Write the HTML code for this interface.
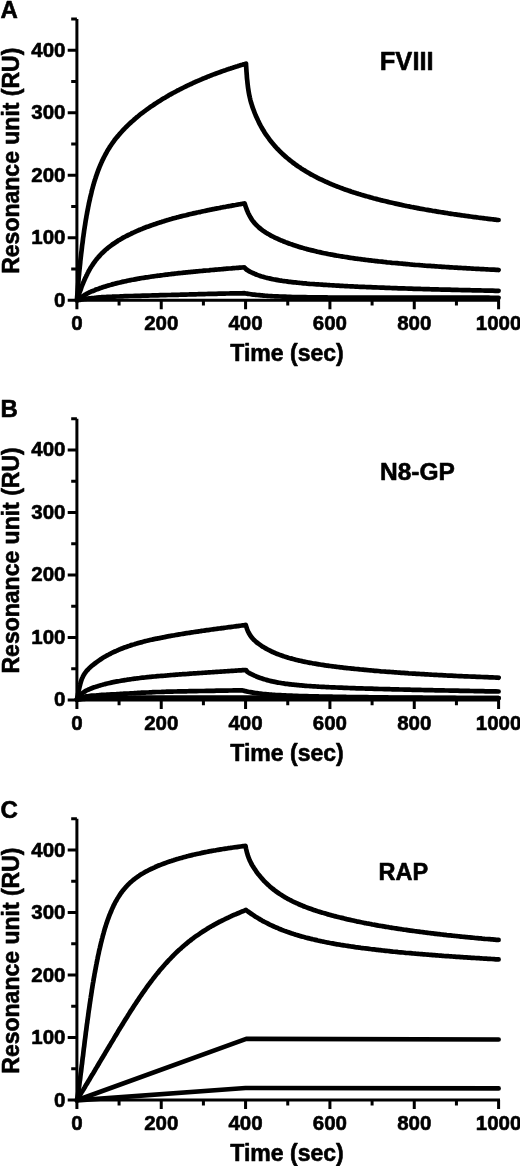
<!DOCTYPE html>
<html><head><meta charset="utf-8"><style>
html,body{margin:0;padding:0;background:#fff;width:520px;height:1166px;overflow:hidden}
svg{display:block;will-change:transform}
text{font-family:"Liberation Sans",sans-serif;font-weight:bold;fill:#000;stroke:#000;stroke-width:0.6px;stroke-linejoin:round}
.tl{font-size:20.5px}
.tt{font-size:23px}
.pl{font-size:24px}
.lb{font-size:25.5px}
.ax{fill:none;stroke:#000;stroke-width:3}
.cv{fill:none;stroke:#000;stroke-width:4.7;stroke-linecap:round;stroke-linejoin:round}
</style></head><body>
<svg width="520" height="1166" viewBox="0 0 520 1166" xmlns="http://www.w3.org/2000/svg">
<path d="M76.90 18.95V300.20H500.00" class="ax"/>
<path d="M67.70 300.20H76.90M71.20 268.95H76.90M67.70 237.70H76.90M71.20 206.45H76.90M67.70 175.20H76.90M71.20 143.95H76.90M67.70 112.70H76.90M71.20 81.45H76.90M67.70 50.20H76.90M71.20 18.95H76.90M76.90 300.20V309.20M119.07 300.20V305.50M161.24 300.20V309.20M203.41 300.20V305.50M245.58 300.20V309.20M287.75 300.20V305.50M329.92 300.20V309.20M372.09 300.20V305.50M414.26 300.20V309.20M456.43 300.20V305.50M498.60 300.20V309.20" class="ax"/>
<text x="65.5" y="306.60" class="tl" text-anchor="end">0</text>
<text x="65.5" y="244.10" class="tl" text-anchor="end">100</text>
<text x="65.5" y="181.60" class="tl" text-anchor="end">200</text>
<text x="65.5" y="119.10" class="tl" text-anchor="end">300</text>
<text x="65.5" y="56.60" class="tl" text-anchor="end">400</text>
<text x="76.90" y="330.20" class="tl" text-anchor="middle">0</text>
<text x="161.24" y="330.20" class="tl" text-anchor="middle">200</text>
<text x="245.58" y="330.20" class="tl" text-anchor="middle">400</text>
<text x="329.92" y="330.20" class="tl" text-anchor="middle">600</text>
<text x="414.26" y="330.20" class="tl" text-anchor="middle">800</text>
<text x="498.60" y="330.20" class="tl" text-anchor="middle">1000</text>
<text x="287" y="361.20" class="tt" text-anchor="middle">Time (sec)</text>
<text transform="translate(18.5 160.70) rotate(-90)" class="tt" text-anchor="middle">Resonance unit (RU)</text>
<text x="0.5" y="17.70" class="pl">A</text>
<text x="379.80" y="69.80" class="lb" style="font-size:25.5px">FVIII</text>
<path d="M76.90 300.30C76.9 299.9 77.0 298.6 77.1 297.8C77.1 296.9 77.2 296.1 77.3 295.2C77.3 294.4 77.4 293.6 77.5 292.7C77.5 291.9 77.6 291.1 77.7 290.2C77.7 289.4 77.8 288.5 77.9 287.7C77.9 286.9 78.0 286.0 78.1 285.2C78.2 284.4 78.2 283.5 78.3 282.7C78.4 281.8 78.4 281.0 78.5 280.2C78.6 279.3 78.7 278.5 78.7 277.6C78.8 276.8 78.9 276.0 79.0 275.1C79.1 274.3 79.1 273.4 79.2 272.5C79.3 271.6 79.4 270.6 79.5 269.6C79.6 268.7 79.7 267.7 79.8 266.8C79.9 265.9 80.0 265.0 80.1 264.1C80.2 263.2 80.3 262.3 80.3 261.4C80.4 260.6 80.5 259.7 80.6 258.8C80.7 258.0 80.8 257.2 80.9 256.3C81.0 255.4 81.1 254.3 81.2 253.4C81.3 252.4 81.5 251.4 81.6 250.5C81.7 249.6 81.8 248.6 81.9 247.7C82.0 246.8 82.1 245.9 82.2 245.0C82.3 244.1 82.5 243.2 82.6 242.4C82.7 241.5 82.8 240.6 82.9 239.8C83.0 239.0 83.1 238.2 83.2 237.3C83.4 236.4 83.5 235.4 83.6 234.5C83.8 233.5 83.9 232.6 84.0 231.7C84.1 230.8 84.3 230.0 84.4 229.1C84.5 228.2 84.7 227.4 84.8 226.5C84.9 225.7 85.1 224.9 85.2 224.0C85.3 223.1 85.5 222.2 85.6 221.3C85.8 220.4 85.9 219.5 86.1 218.6C86.2 217.7 86.4 216.9 86.5 216.0C86.7 215.2 86.8 214.4 87.0 213.5C87.1 212.7 87.3 211.7 87.5 210.8C87.6 209.9 87.8 209.1 88.0 208.2C88.1 207.3 88.3 206.6 88.5 205.7C88.7 204.8 88.8 203.9 89.0 203.0C89.2 202.1 89.4 201.3 89.6 200.4C89.8 199.6 90.0 198.8 90.1 197.9C90.3 197.1 90.6 196.2 90.8 195.3C91.0 194.4 91.2 193.6 91.4 192.8C91.6 191.9 91.8 191.0 92.0 190.1C92.3 189.3 92.5 188.4 92.7 187.6C92.9 186.8 93.1 186.0 93.4 185.2C93.6 184.4 93.8 183.5 94.1 182.7C94.3 181.9 94.6 181.0 94.9 180.1C95.1 179.3 95.4 178.5 95.7 177.7C95.9 176.9 96.2 176.0 96.5 175.2C96.8 174.4 97.0 173.6 97.3 172.8C97.6 172.0 97.9 171.2 98.2 170.4C98.5 169.6 98.8 168.7 99.2 167.9C99.5 167.1 99.8 166.4 100.1 165.6C100.4 164.8 100.8 164.1 101.1 163.3C101.5 162.5 101.8 161.7 102.2 160.9C102.5 160.2 102.9 159.4 103.3 158.6C103.7 157.8 104.1 157.1 104.5 156.3C104.9 155.5 105.3 154.7 105.7 154.0C106.1 153.2 106.5 152.5 106.9 151.8C107.3 151.1 107.7 150.3 108.2 149.6C108.6 148.9 109.1 148.2 109.5 147.5C110.0 146.7 110.4 146.0 110.9 145.3C111.4 144.6 111.9 143.9 112.4 143.2C112.9 142.5 113.4 141.8 113.9 141.1C114.4 140.4 114.9 139.7 115.4 139.1C115.9 138.4 116.5 137.8 117.0 137.1C117.5 136.4 118.1 135.8 118.6 135.2C119.1 134.5 119.7 133.9 120.3 133.2C120.8 132.6 121.4 131.9 122.0 131.3C122.6 130.7 123.1 130.1 123.7 129.5C124.3 128.9 124.9 128.2 125.5 127.6C126.1 127.0 126.7 126.5 127.3 125.9C127.9 125.3 128.5 124.7 129.1 124.1C129.7 123.5 130.3 123.0 131.0 122.4C131.6 121.9 132.2 121.3 132.9 120.7C133.5 120.2 134.1 119.6 134.7 119.1C135.4 118.5 136.0 118.0 136.7 117.4C137.3 116.9 138.0 116.4 138.6 115.8C139.3 115.3 140.0 114.8 140.6 114.2C141.3 113.7 142.0 113.2 142.7 112.7C143.3 112.2 144.0 111.7 144.7 111.2C145.3 110.7 146.0 110.2 146.7 109.7C147.4 109.2 148.1 108.7 148.8 108.2C149.5 107.7 150.1 107.2 150.8 106.7C151.5 106.2 152.2 105.8 153.0 105.3C153.7 104.8 154.4 104.3 155.1 103.9C155.8 103.4 156.5 102.9 157.2 102.5C157.9 102.0 158.6 101.6 159.3 101.1C160.0 100.7 160.8 100.2 161.5 99.8C162.2 99.3 162.9 98.9 163.6 98.4C164.4 98.0 165.1 97.6 165.8 97.2C166.5 96.7 167.3 96.3 168.0 95.9C168.7 95.5 169.4 95.1 170.2 94.6C170.9 94.2 171.6 93.8 172.4 93.4C173.1 93.0 173.9 92.6 174.6 92.2C175.4 91.8 176.1 91.4 176.8 91.0C177.6 90.6 178.3 90.2 179.1 89.8C179.8 89.4 180.5 89.1 181.3 88.7C182.0 88.3 182.8 87.9 183.6 87.5C184.3 87.1 185.1 86.8 185.9 86.4C186.6 86.0 187.4 85.7 188.1 85.3C188.9 84.9 189.7 84.6 190.4 84.2C191.2 83.9 192.0 83.5 192.7 83.2C193.5 82.8 194.2 82.5 195.0 82.1C195.8 81.8 196.6 81.4 197.3 81.1C198.1 80.8 198.9 80.4 199.7 80.1C200.5 79.8 201.2 79.4 202.0 79.1C202.8 78.8 203.6 78.4 204.3 78.1C205.1 77.8 205.9 77.5 206.7 77.2C207.5 76.9 208.2 76.5 209.0 76.2C209.8 75.9 210.6 75.6 211.4 75.3C212.1 75.0 212.9 74.7 213.7 74.4C214.5 74.1 215.3 73.8 216.1 73.5C216.9 73.2 217.7 72.9 218.5 72.6C219.3 72.3 220.1 72.1 220.9 71.8C221.7 71.5 222.5 71.2 223.3 70.9C224.1 70.6 224.9 70.4 225.7 70.1C226.5 69.8 227.3 69.5 228.1 69.3C228.9 69.0 229.7 68.7 230.5 68.5C231.3 68.2 232.1 67.9 232.9 67.7C233.7 67.4 234.5 67.2 235.3 66.9C236.1 66.7 236.8 66.4 237.6 66.2C238.4 65.9 239.2 65.7 240.0 65.4C240.8 65.2 241.6 64.9 242.4 64.7C243.2 64.4 244.3 64.1 244.9 64.0C245.5 63.8 245.8 63.7 246.0 63.6L246.00 63.63C246.0 64.2 246.1 65.9 246.2 67.0C246.3 68.1 246.3 69.1 246.4 70.1C246.4 71.0 246.5 71.9 246.6 72.8C246.6 73.7 246.7 74.4 246.8 75.3C246.8 76.3 246.9 77.4 247.0 78.4C247.1 79.3 247.2 80.1 247.3 81.0C247.4 82.0 247.5 83.1 247.6 84.0C247.7 84.9 247.8 85.7 247.9 86.6C248.0 87.5 248.1 88.4 248.3 89.3C248.4 90.2 248.6 91.2 248.7 92.1C248.9 93.0 249.0 93.9 249.2 94.8C249.4 95.7 249.6 96.6 249.8 97.5C250.0 98.3 250.2 99.2 250.4 100.1C250.6 100.9 250.9 101.8 251.1 102.6C251.4 103.4 251.6 104.3 251.9 105.1C252.1 105.9 252.4 106.8 252.7 107.6C253.0 108.4 253.3 109.2 253.6 110.0C253.9 110.9 254.2 111.7 254.5 112.5C254.8 113.3 255.1 114.1 255.5 114.8C255.8 115.6 256.1 116.4 256.5 117.2C256.8 118.0 257.2 118.8 257.6 119.5C257.9 120.3 258.3 121.1 258.7 121.9C259.1 122.7 259.4 123.4 259.8 124.1C260.2 124.9 260.6 125.6 261.0 126.4C261.4 127.1 261.9 127.9 262.3 128.6C262.7 129.4 263.2 130.1 263.6 130.8C264.1 131.6 264.5 132.3 265.0 133.1C265.5 133.8 265.9 134.5 266.4 135.2C266.9 135.9 267.4 136.6 267.9 137.2C268.4 137.9 268.9 138.6 269.4 139.3C269.9 140.0 270.4 140.7 271.0 141.4C271.5 142.0 272.0 142.7 272.5 143.3C273.1 144.0 273.6 144.6 274.2 145.3C274.7 145.9 275.3 146.6 275.9 147.2C276.4 147.8 277.0 148.4 277.6 149.0C278.2 149.6 278.8 150.2 279.4 150.8C280.0 151.4 280.6 152.0 281.2 152.6C281.8 153.2 282.4 153.8 283.0 154.4C283.6 154.9 284.3 155.5 284.9 156.1C285.5 156.6 286.2 157.2 286.8 157.7C287.4 158.3 288.1 158.8 288.8 159.4C289.4 159.9 290.1 160.4 290.7 160.9C291.4 161.4 292.1 162.0 292.7 162.5C293.4 163.0 294.1 163.5 294.8 164.0C295.4 164.5 296.2 165.0 296.8 165.5C297.5 166.0 298.2 166.4 298.9 166.9C299.6 167.4 300.3 167.8 301.0 168.3C301.7 168.8 302.4 169.2 303.2 169.7C303.9 170.1 304.6 170.6 305.3 171.0C306.0 171.4 306.7 171.9 307.5 172.3C308.2 172.7 308.9 173.1 309.7 173.6C310.4 174.0 311.1 174.4 311.9 174.8C312.6 175.2 313.3 175.6 314.1 176.0C314.8 176.4 315.6 176.8 316.4 177.2C317.1 177.6 317.9 178.0 318.6 178.3C319.4 178.7 320.2 179.1 320.9 179.4C321.7 179.8 322.4 180.2 323.2 180.5C323.9 180.9 324.7 181.2 325.5 181.6C326.2 181.9 327.0 182.3 327.8 182.6C328.6 183.0 329.4 183.3 330.1 183.6C330.9 184.0 331.7 184.3 332.5 184.6C333.3 184.9 334.0 185.3 334.8 185.6C335.6 185.9 336.4 186.2 337.1 186.5C337.9 186.8 338.7 187.1 339.5 187.4C340.3 187.7 341.1 188.0 341.9 188.3C342.7 188.6 343.5 188.9 344.3 189.2C345.1 189.5 345.9 189.8 346.7 190.0C347.5 190.3 348.3 190.6 349.1 190.9C349.9 191.1 350.7 191.4 351.5 191.7C352.3 191.9 353.1 192.2 353.9 192.5C354.7 192.7 355.5 193.0 356.3 193.2C357.1 193.5 357.9 193.7 358.7 194.0C359.5 194.2 360.3 194.5 361.1 194.7C361.9 194.9 362.7 195.2 363.5 195.4C364.3 195.7 365.1 195.9 366.0 196.1C366.8 196.4 367.6 196.6 368.4 196.8C369.2 197.1 370.1 197.3 370.9 197.5C371.7 197.7 372.5 198.0 373.3 198.2C374.2 198.4 375.0 198.6 375.8 198.8C376.6 199.1 377.4 199.3 378.3 199.5C379.1 199.7 379.9 199.9 380.7 200.1C381.6 200.3 382.4 200.5 383.2 200.7C384.0 200.9 384.8 201.1 385.7 201.3C386.5 201.5 387.3 201.7 388.1 201.9C388.9 202.1 389.8 202.3 390.6 202.5C391.4 202.7 392.2 202.9 393.0 203.0C393.9 203.2 394.7 203.4 395.5 203.6C396.3 203.8 397.2 204.0 398.0 204.1C398.8 204.3 399.6 204.5 400.4 204.7C401.3 204.8 402.1 205.0 402.9 205.2C403.7 205.4 404.5 205.5 405.4 205.7C406.2 205.9 407.0 206.0 407.8 206.2C408.7 206.4 409.5 206.5 410.3 206.7C411.1 206.9 411.9 207.0 412.8 207.2C413.6 207.3 414.4 207.5 415.2 207.7C416.0 207.8 416.9 208.0 417.7 208.1C418.5 208.3 419.3 208.4 420.1 208.6C421.0 208.7 421.8 208.9 422.6 209.0C423.4 209.2 424.3 209.3 425.1 209.5C425.9 209.6 426.7 209.8 427.5 209.9C428.4 210.1 429.2 210.2 430.0 210.3C430.8 210.5 431.7 210.6 432.5 210.8C433.4 210.9 434.2 211.1 435.1 211.2C435.9 211.3 436.7 211.5 437.6 211.6C438.4 211.8 439.3 211.9 440.1 212.0C441.0 212.2 441.8 212.3 442.6 212.4C443.5 212.6 444.3 212.7 445.2 212.8C446.0 213.0 446.8 213.1 447.7 213.2C448.5 213.4 449.4 213.5 450.2 213.6C451.1 213.8 451.9 213.9 452.7 214.0C453.6 214.1 454.4 214.3 455.3 214.4C456.1 214.5 457.0 214.6 457.8 214.8C458.6 214.9 459.5 215.0 460.3 215.1C461.2 215.2 462.0 215.4 462.8 215.5C463.7 215.6 464.5 215.7 465.4 215.8C466.2 215.9 467.1 216.1 467.9 216.2C468.7 216.3 469.6 216.4 470.4 216.5C471.3 216.6 472.1 216.7 473.0 216.9C473.8 217.0 474.6 217.1 475.5 217.2C476.3 217.3 477.2 217.4 478.0 217.5C478.9 217.6 479.7 217.7 480.5 217.8C481.4 217.9 482.2 218.1 483.1 218.2C483.9 218.3 484.7 218.4 485.6 218.5C486.4 218.6 487.3 218.7 488.1 218.8C489.0 218.9 489.8 219.0 490.6 219.1C491.5 219.2 492.3 219.3 493.2 219.4C494.0 219.5 494.8 219.6 495.7 219.7C496.6 219.8 498.1 220.0 498.6 220.0" class="cv"/>
<path d="M76.90 300.30C77.0 299.9 77.5 298.7 77.7 297.9C78.0 297.1 78.3 296.4 78.5 295.6C78.8 294.8 79.1 294.0 79.3 293.2C79.6 292.4 79.9 291.6 80.2 290.8C80.5 290.0 80.8 289.2 81.1 288.4C81.3 287.6 81.6 286.8 81.9 286.0C82.2 285.2 82.6 284.4 82.9 283.6C83.2 282.8 83.5 282.0 83.9 281.2C84.2 280.4 84.6 279.6 84.9 278.8C85.3 278.1 85.6 277.3 86.0 276.6C86.3 275.8 86.7 275.0 87.1 274.3C87.4 273.5 87.8 272.8 88.2 272.1C88.6 271.3 89.0 270.6 89.4 269.9C89.9 269.1 90.3 268.4 90.7 267.7C91.2 267.0 91.6 266.2 92.1 265.5C92.6 264.8 93.0 264.1 93.5 263.4C94.0 262.7 94.5 262.0 95.0 261.3C95.5 260.6 96.0 260.0 96.6 259.3C97.1 258.6 97.6 258.0 98.2 257.4C98.7 256.7 99.3 256.1 99.9 255.5C100.5 254.8 101.0 254.2 101.6 253.6C102.2 253.0 102.9 252.4 103.5 251.8C104.1 251.2 104.7 250.7 105.3 250.1C106.0 249.6 106.6 249.0 107.3 248.5C107.9 247.9 108.6 247.4 109.3 246.9C109.9 246.3 110.6 245.8 111.3 245.3C112.0 244.8 112.7 244.3 113.4 243.9C114.0 243.4 114.7 242.9 115.5 242.4C116.2 242.0 116.9 241.5 117.6 241.1C118.3 240.6 119.0 240.2 119.8 239.7C120.5 239.3 121.2 238.9 122.0 238.4C122.7 238.0 123.4 237.6 124.2 237.2C124.9 236.8 125.6 236.4 126.4 236.0C127.1 235.7 127.9 235.3 128.6 234.9C129.4 234.5 130.2 234.1 130.9 233.8C131.7 233.4 132.4 233.1 133.2 232.7C133.9 232.3 134.7 232.0 135.5 231.6C136.3 231.3 137.0 231.0 137.8 230.6C138.6 230.3 139.4 230.0 140.1 229.6C140.9 229.3 141.7 229.0 142.5 228.7C143.2 228.4 144.0 228.1 144.8 227.8C145.6 227.4 146.4 227.1 147.2 226.8C148.0 226.5 148.8 226.3 149.6 226.0C150.4 225.7 151.2 225.4 151.9 225.1C152.7 224.8 153.5 224.6 154.3 224.3C155.1 224.0 155.9 223.8 156.7 223.5C157.5 223.2 158.3 222.9 159.1 222.7C159.9 222.4 160.7 222.2 161.6 221.9C162.4 221.7 163.2 221.4 164.0 221.2C164.8 220.9 165.6 220.7 166.4 220.4C167.2 220.2 168.0 219.9 168.8 219.7C169.7 219.5 170.5 219.2 171.3 219.0C172.1 218.8 172.9 218.6 173.7 218.3C174.5 218.1 175.3 217.9 176.1 217.7C176.9 217.5 177.8 217.2 178.6 217.0C179.4 216.8 180.2 216.6 181.0 216.4C181.8 216.2 182.6 216.0 183.4 215.8C184.2 215.6 185.0 215.4 185.9 215.2C186.7 215.0 187.5 214.8 188.3 214.6C189.2 214.4 190.0 214.2 190.8 214.0C191.6 213.8 192.5 213.6 193.3 213.4C194.1 213.2 195.0 213.0 195.8 212.9C196.6 212.7 197.4 212.5 198.3 212.3C199.1 212.1 199.9 211.9 200.8 211.8C201.6 211.6 202.4 211.4 203.2 211.2C204.1 211.0 204.9 210.9 205.7 210.7C206.6 210.5 207.4 210.3 208.2 210.2C209.0 210.0 209.9 209.8 210.7 209.7C211.5 209.5 212.4 209.3 213.2 209.2C214.0 209.0 214.8 208.8 215.7 208.7C216.5 208.5 217.3 208.4 218.2 208.2C219.0 208.0 219.8 207.9 220.6 207.7C221.5 207.6 222.3 207.4 223.1 207.2C223.9 207.1 224.8 206.9 225.6 206.8C226.4 206.6 227.3 206.5 228.1 206.3C228.9 206.2 229.7 206.0 230.6 205.9C231.4 205.7 232.2 205.6 233.1 205.4C233.9 205.3 234.7 205.1 235.5 205.0C236.4 204.8 237.2 204.7 238.0 204.5C238.9 204.4 239.7 204.2 240.5 204.1C241.3 203.9 242.3 203.8 243.0 203.7C243.7 203.5 244.3 203.4 244.6 203.4L244.60 203.39C244.7 203.8 245.1 205.0 245.4 205.8C245.6 206.6 245.9 207.5 246.3 208.3C246.6 209.1 246.9 210.0 247.2 210.7C247.5 211.5 247.9 212.3 248.2 213.1C248.6 213.8 249.0 214.6 249.4 215.4C249.8 216.1 250.2 216.9 250.6 217.6C251.1 218.4 251.5 219.1 252.0 219.8C252.5 220.5 253.0 221.2 253.6 221.9C254.1 222.6 254.6 223.2 255.2 223.8C255.8 224.5 256.4 225.1 257.0 225.7C257.6 226.3 258.2 226.9 258.8 227.4C259.5 228.0 260.1 228.5 260.8 229.0C261.5 229.6 262.1 230.1 262.8 230.6C263.5 231.1 264.2 231.5 264.9 232.0C265.6 232.5 266.4 232.9 267.1 233.4C267.8 233.8 268.6 234.2 269.3 234.6C270.0 235.1 270.8 235.5 271.5 235.9C272.3 236.3 273.1 236.6 273.8 237.0C274.6 237.4 275.3 237.8 276.1 238.1C276.9 238.5 277.6 238.8 278.4 239.2C279.2 239.5 280.0 239.9 280.7 240.2C281.5 240.5 282.3 240.9 283.1 241.2C283.9 241.5 284.7 241.8 285.4 242.1C286.2 242.4 287.0 242.7 287.8 243.0C288.6 243.3 289.3 243.6 290.1 243.9C290.9 244.2 291.7 244.4 292.6 244.7C293.4 245.0 294.2 245.3 295.0 245.5C295.8 245.8 296.6 246.1 297.4 246.3C298.2 246.6 299.0 246.8 299.8 247.1C300.6 247.3 301.4 247.5 302.2 247.8C303.0 248.0 303.8 248.2 304.6 248.5C305.4 248.7 306.2 248.9 307.0 249.1C307.9 249.3 308.7 249.6 309.5 249.8C310.3 250.0 311.2 250.2 312.0 250.4C312.8 250.6 313.6 250.8 314.5 251.0C315.3 251.2 316.1 251.4 316.9 251.6C317.8 251.8 318.6 252.0 319.4 252.1C320.2 252.3 321.1 252.5 321.9 252.7C322.7 252.9 323.6 253.0 324.4 253.2C325.2 253.4 326.0 253.6 326.9 253.7C327.7 253.9 328.5 254.0 329.3 254.2C330.2 254.4 331.0 254.5 331.8 254.7C332.6 254.8 333.5 255.0 334.3 255.1C335.1 255.3 335.9 255.4 336.8 255.6C337.6 255.7 338.4 255.9 339.2 256.0C340.1 256.1 340.9 256.3 341.7 256.4C342.5 256.6 343.4 256.7 344.2 256.8C345.0 257.0 345.8 257.1 346.7 257.2C347.5 257.3 348.3 257.5 349.1 257.6C350.0 257.7 350.8 257.8 351.6 258.0C352.4 258.1 353.3 258.2 354.1 258.3C354.9 258.4 355.7 258.5 356.6 258.7C357.4 258.8 358.3 258.9 359.1 259.0C360.0 259.1 360.8 259.2 361.7 259.3C362.5 259.4 363.4 259.6 364.2 259.7C365.0 259.8 365.9 259.9 366.7 260.0C367.6 260.1 368.4 260.2 369.3 260.3C370.1 260.4 371.0 260.5 371.8 260.6C372.7 260.7 373.5 260.8 374.4 260.9C375.2 261.0 376.1 261.1 376.9 261.2C377.8 261.3 378.6 261.4 379.4 261.5C380.3 261.5 381.1 261.6 382.0 261.7C382.8 261.8 383.7 261.9 384.5 262.0C385.4 262.1 386.2 262.2 387.1 262.3C387.9 262.3 388.8 262.4 389.6 262.5C390.5 262.6 391.3 262.7 392.1 262.8C393.0 262.8 393.8 262.9 394.7 263.0C395.5 263.1 396.4 263.2 397.2 263.2C398.1 263.3 398.9 263.4 399.8 263.5C400.6 263.5 401.5 263.6 402.3 263.7C403.2 263.8 404.0 263.8 404.9 263.9C405.7 264.0 406.5 264.1 407.4 264.1C408.2 264.2 409.1 264.3 409.9 264.4C410.8 264.4 411.6 264.5 412.5 264.6C413.3 264.6 414.2 264.7 415.0 264.8C415.9 264.8 416.7 264.9 417.6 265.0C418.4 265.0 419.2 265.1 420.1 265.2C420.9 265.2 421.8 265.3 422.6 265.4C423.5 265.4 424.3 265.5 425.2 265.6C426.0 265.6 426.9 265.7 427.7 265.8C428.6 265.8 429.4 265.9 430.3 265.9C431.1 266.0 432.0 266.1 432.8 266.1C433.6 266.2 434.5 266.2 435.3 266.3C436.2 266.4 437.0 266.4 437.9 266.5C438.7 266.5 439.6 266.6 440.4 266.6C441.3 266.7 442.1 266.8 443.0 266.8C443.8 266.9 444.7 266.9 445.5 267.0C446.3 267.0 447.2 267.1 448.0 267.1C448.9 267.2 449.7 267.3 450.6 267.3C451.4 267.4 452.3 267.4 453.1 267.5C454.0 267.5 454.8 267.6 455.7 267.6C456.5 267.7 457.4 267.7 458.2 267.8C459.1 267.8 459.9 267.9 460.7 267.9C461.6 268.0 462.4 268.0 463.3 268.1C464.1 268.1 465.0 268.2 465.8 268.2C466.7 268.3 467.5 268.3 468.4 268.4C469.2 268.4 470.1 268.5 470.9 268.5C471.8 268.6 472.6 268.6 473.4 268.7C474.3 268.7 475.1 268.8 476.0 268.8C476.8 268.8 477.7 268.9 478.5 268.9C479.4 269.0 480.2 269.0 481.1 269.1C481.9 269.1 482.8 269.2 483.6 269.2C484.5 269.2 485.3 269.3 486.2 269.3C487.0 269.4 487.8 269.4 488.7 269.5C489.5 269.5 490.4 269.5 491.2 269.6C492.1 269.6 492.9 269.7 493.8 269.7C494.6 269.8 495.5 269.8 496.3 269.8C497.1 269.9 498.2 269.9 498.6 270.0" class="cv"/>
<path d="M76.90 300.30C77.3 300.1 78.4 299.4 79.1 298.9C79.8 298.5 80.5 298.0 81.2 297.5C81.9 297.0 82.5 296.5 83.2 296.0C84.0 295.5 84.7 295.0 85.4 294.6C86.1 294.1 86.9 293.7 87.6 293.3C88.3 293.0 89.1 292.6 89.9 292.2C90.6 291.9 91.4 291.6 92.2 291.2C93.0 290.9 93.8 290.6 94.5 290.3C95.3 289.9 96.1 289.6 96.9 289.3C97.7 289.0 98.5 288.8 99.3 288.5C100.1 288.2 100.8 287.9 101.6 287.6C102.4 287.4 103.3 287.1 104.1 286.8C104.9 286.6 105.7 286.3 106.5 286.1C107.3 285.8 108.1 285.6 108.9 285.4C109.7 285.1 110.5 284.9 111.3 284.7C112.1 284.4 113.0 284.2 113.8 284.0C114.6 283.8 115.4 283.6 116.2 283.4C117.0 283.2 117.8 283.0 118.7 282.7C119.5 282.5 120.3 282.4 121.1 282.2C122.0 282.0 122.8 281.8 123.6 281.6C124.5 281.4 125.3 281.2 126.1 281.1C126.9 280.9 127.8 280.7 128.6 280.5C129.4 280.4 130.2 280.2 131.1 280.0C131.9 279.9 132.7 279.7 133.5 279.6C134.4 279.4 135.2 279.3 136.0 279.1C136.8 279.0 137.7 278.8 138.5 278.7C139.3 278.5 140.1 278.4 141.0 278.2C141.8 278.1 142.6 278.0 143.5 277.8C144.3 277.7 145.1 277.6 145.9 277.4C146.8 277.3 147.6 277.2 148.4 277.1C149.2 276.9 150.1 276.8 150.9 276.7C151.7 276.6 152.5 276.5 153.4 276.3C154.2 276.2 155.0 276.1 155.8 276.0C156.7 275.9 157.5 275.8 158.3 275.7C159.2 275.5 160.0 275.4 160.9 275.3C161.7 275.2 162.5 275.1 163.4 275.0C164.2 274.9 165.1 274.8 165.9 274.7C166.8 274.6 167.6 274.5 168.5 274.4C169.3 274.3 170.2 274.2 171.0 274.1C171.8 274.0 172.7 273.9 173.5 273.8C174.4 273.7 175.2 273.6 176.1 273.5C176.9 273.4 177.8 273.3 178.6 273.2C179.4 273.1 180.3 273.1 181.1 273.0C182.0 272.9 182.8 272.8 183.7 272.7C184.5 272.6 185.4 272.5 186.2 272.4C187.0 272.3 187.9 272.3 188.7 272.2C189.6 272.1 190.4 272.0 191.3 271.9C192.1 271.8 193.0 271.8 193.8 271.7C194.6 271.6 195.5 271.5 196.3 271.4C197.2 271.4 198.0 271.3 198.9 271.2C199.7 271.1 200.6 271.0 201.4 271.0C202.2 270.9 203.1 270.8 203.9 270.7C204.8 270.6 205.6 270.6 206.5 270.5C207.3 270.4 208.2 270.3 209.0 270.3C209.8 270.2 210.7 270.1 211.5 270.0C212.4 270.0 213.2 269.9 214.1 269.8C214.9 269.7 215.8 269.7 216.6 269.6C217.4 269.5 218.3 269.5 219.1 269.4C220.0 269.3 220.8 269.2 221.7 269.2C222.5 269.1 223.4 269.0 224.2 268.9C225.0 268.9 225.9 268.8 226.7 268.7C227.6 268.7 228.4 268.6 229.3 268.5C230.1 268.5 231.0 268.4 231.8 268.3C232.7 268.2 233.5 268.2 234.3 268.1C235.2 268.0 236.0 268.0 236.9 267.9C237.7 267.8 238.6 267.8 239.4 267.7C240.3 267.6 241.1 267.6 241.9 267.5C242.7 267.4 243.8 267.3 244.2 267.3L244.20 267.31C244.5 267.6 245.3 268.5 246.0 269.1C246.6 269.6 247.3 270.1 248.0 270.5C248.7 271.0 249.4 271.4 250.2 271.8C250.9 272.2 251.7 272.6 252.5 272.9C253.2 273.3 254.0 273.6 254.8 273.9C255.5 274.3 256.3 274.6 257.1 274.9C257.9 275.2 258.7 275.5 259.5 275.7C260.3 276.0 261.1 276.3 261.9 276.5C262.8 276.7 263.5 277.0 264.4 277.2C265.2 277.4 266.0 277.6 266.8 277.9C267.7 278.1 268.5 278.3 269.3 278.4C270.2 278.6 271.0 278.8 271.8 279.0C272.6 279.2 273.5 279.3 274.3 279.5C275.1 279.6 275.9 279.8 276.8 279.9C277.6 280.1 278.4 280.2 279.3 280.4C280.1 280.5 280.9 280.6 281.7 280.7C282.6 280.9 283.4 281.0 284.2 281.1C285.0 281.2 285.9 281.3 286.7 281.4C287.5 281.6 288.3 281.7 289.2 281.8C290.0 281.9 290.9 282.0 291.7 282.1C292.6 282.2 293.4 282.3 294.3 282.3C295.1 282.4 296.0 282.5 296.8 282.6C297.7 282.7 298.5 282.8 299.4 282.9C300.2 283.0 301.1 283.0 301.9 283.1C302.7 283.2 303.6 283.3 304.4 283.3C305.3 283.4 306.1 283.5 307.0 283.6C307.8 283.6 308.7 283.7 309.5 283.8C310.4 283.8 311.2 283.9 312.1 284.0C312.9 284.0 313.8 284.1 314.6 284.2C315.5 284.2 316.3 284.3 317.2 284.4C318.0 284.4 318.9 284.5 319.7 284.5C320.6 284.6 321.4 284.7 322.3 284.7C323.1 284.8 324.0 284.8 324.8 284.9C325.6 284.9 326.5 285.0 327.3 285.0C328.2 285.1 329.0 285.1 329.9 285.2C330.7 285.2 331.6 285.3 332.4 285.3C333.3 285.4 334.1 285.4 335.0 285.5C335.8 285.5 336.7 285.6 337.5 285.6C338.4 285.7 339.2 285.7 340.1 285.8C340.9 285.8 341.8 285.9 342.6 285.9C343.5 286.0 344.3 286.0 345.2 286.1C346.0 286.1 346.9 286.1 347.7 286.2C348.6 286.2 349.4 286.3 350.2 286.3C351.1 286.3 351.9 286.4 352.8 286.4C353.6 286.5 354.5 286.5 355.3 286.6C356.2 286.6 357.0 286.6 357.9 286.7C358.7 286.7 359.6 286.7 360.4 286.8C361.3 286.8 362.1 286.9 363.0 286.9C363.8 286.9 364.7 287.0 365.5 287.0C366.4 287.0 367.2 287.1 368.1 287.1C368.9 287.2 369.8 287.2 370.6 287.2C371.5 287.3 372.3 287.3 373.1 287.3C374.0 287.4 374.8 287.4 375.7 287.4C376.5 287.5 377.4 287.5 378.2 287.5C379.1 287.6 379.9 287.6 380.8 287.6C381.6 287.7 382.5 287.7 383.3 287.7C384.2 287.8 385.0 287.8 385.9 287.8C386.7 287.9 387.6 287.9 388.4 287.9C389.3 287.9 390.1 288.0 391.0 288.0C391.8 288.0 392.7 288.1 393.5 288.1C394.4 288.1 395.2 288.2 396.1 288.2C396.9 288.2 397.7 288.2 398.6 288.3C399.4 288.3 400.3 288.3 401.1 288.4C402.0 288.4 402.8 288.4 403.7 288.4C404.5 288.5 405.4 288.5 406.2 288.5C407.1 288.6 407.9 288.6 408.8 288.6C409.6 288.6 410.5 288.7 411.3 288.7C412.2 288.7 413.0 288.7 413.9 288.8C414.7 288.8 415.6 288.8 416.4 288.8C417.3 288.9 418.1 288.9 419.0 288.9C419.8 288.9 420.6 289.0 421.5 289.0C422.3 289.0 423.2 289.0 424.0 289.1C424.9 289.1 425.7 289.1 426.6 289.1C427.4 289.2 428.3 289.2 429.1 289.2C430.0 289.2 430.8 289.3 431.7 289.3C432.5 289.3 433.4 289.3 434.2 289.3C435.1 289.4 435.9 289.4 436.8 289.4C437.6 289.4 438.5 289.5 439.3 289.5C440.2 289.5 441.0 289.5 441.9 289.6C442.7 289.6 443.6 289.6 444.4 289.6C445.2 289.6 446.1 289.7 446.9 289.7C447.8 289.7 448.6 289.7 449.5 289.7C450.3 289.8 451.2 289.8 452.0 289.8C452.9 289.8 453.7 289.8 454.6 289.9C455.4 289.9 456.3 289.9 457.1 289.9C458.0 290.0 458.8 290.0 459.7 290.0C460.5 290.0 461.4 290.0 462.2 290.1C463.1 290.1 463.9 290.1 464.8 290.1C465.6 290.1 466.5 290.1 467.3 290.2C468.1 290.2 469.0 290.2 469.8 290.2C470.7 290.2 471.5 290.3 472.4 290.3C473.2 290.3 474.1 290.3 474.9 290.3C475.8 290.4 476.6 290.4 477.5 290.4C478.3 290.4 479.2 290.4 480.0 290.4C480.9 290.5 481.7 290.5 482.6 290.5C483.4 290.5 484.3 290.5 485.1 290.6C486.0 290.6 486.8 290.6 487.7 290.6C488.5 290.6 489.4 290.6 490.2 290.7C491.1 290.7 491.9 290.7 492.7 290.7C493.6 290.7 494.3 290.7 495.3 290.8C496.3 290.8 498.0 290.8 498.6 290.8" class="cv"/>
<path d="M76.90 300.30C77.3 300.2 78.6 300.0 79.4 299.8C80.2 299.7 81.1 299.5 81.9 299.4C82.7 299.3 83.5 299.2 84.4 299.0C85.2 298.9 86.0 298.8 86.8 298.7C87.7 298.6 88.5 298.5 89.3 298.4C90.2 298.3 91.0 298.2 91.9 298.1C92.7 298.0 93.6 297.9 94.4 297.9C95.3 297.8 96.1 297.7 96.9 297.6C97.8 297.6 98.6 297.5 99.5 297.4C100.3 297.4 101.2 297.3 102.0 297.2C102.9 297.2 103.7 297.1 104.6 297.1C105.4 297.0 106.3 297.0 107.1 296.9C107.9 296.9 108.8 296.8 109.6 296.8C110.5 296.8 111.3 296.7 112.2 296.7C113.0 296.6 113.9 296.6 114.7 296.6C115.6 296.5 116.4 296.5 117.2 296.5C118.1 296.4 118.9 296.4 119.8 296.4C120.6 296.3 121.5 296.3 122.3 296.3C123.2 296.2 124.0 296.2 124.9 296.2C125.7 296.2 126.6 296.1 127.4 296.1C128.2 296.1 129.1 296.1 129.9 296.0C130.8 296.0 131.6 296.0 132.5 296.0C133.3 295.9 134.2 295.9 135.0 295.9C135.9 295.9 136.7 295.8 137.6 295.8C138.4 295.8 139.2 295.8 140.1 295.8C140.9 295.7 141.8 295.7 142.6 295.7C143.5 295.7 144.3 295.6 145.2 295.6C146.0 295.6 146.9 295.6 147.7 295.6C148.6 295.5 149.4 295.5 150.2 295.5C151.1 295.5 151.9 295.5 152.8 295.4C153.6 295.4 154.5 295.4 155.3 295.4C156.2 295.4 157.0 295.3 157.9 295.3C158.7 295.3 159.6 295.3 160.4 295.2C161.2 295.2 162.1 295.2 162.9 295.2C163.8 295.2 164.6 295.1 165.5 295.1C166.3 295.1 167.2 295.1 168.0 295.0C168.9 295.0 169.7 295.0 170.6 295.0C171.4 295.0 172.2 294.9 173.1 294.9C173.9 294.9 174.8 294.9 175.6 294.8C176.5 294.8 177.3 294.8 178.2 294.8C179.0 294.8 179.9 294.7 180.7 294.7C181.6 294.7 182.4 294.7 183.2 294.6C184.1 294.6 184.9 294.6 185.8 294.6C186.6 294.5 187.5 294.5 188.3 294.5C189.2 294.5 190.0 294.4 190.9 294.4C191.7 294.4 192.6 294.4 193.4 294.4C194.2 294.3 195.1 294.3 195.9 294.3C196.8 294.3 197.6 294.2 198.5 294.2C199.3 294.2 200.2 294.2 201.0 294.1C201.9 294.1 202.7 294.1 203.6 294.1C204.4 294.1 205.2 294.0 206.1 294.0C206.9 294.0 207.8 294.0 208.6 293.9C209.5 293.9 210.3 293.9 211.2 293.9C212.0 293.9 212.9 293.8 213.7 293.8C214.6 293.8 215.4 293.8 216.2 293.8C217.1 293.7 217.9 293.7 218.8 293.7C219.6 293.7 220.5 293.7 221.3 293.6C222.2 293.6 223.0 293.6 223.9 293.6C224.7 293.6 225.6 293.5 226.4 293.5C227.2 293.5 228.1 293.5 228.9 293.5C229.8 293.5 230.6 293.4 231.5 293.4C232.3 293.4 233.2 293.4 234.0 293.4C234.9 293.4 235.7 293.3 236.6 293.3C237.4 293.3 238.2 293.3 239.1 293.3C239.9 293.3 240.7 293.3 241.6 293.3C242.5 293.2 244.0 293.2 244.5 293.2L244.50 293.21C244.9 293.3 246.2 293.5 247.0 293.6C247.8 293.8 248.6 293.9 249.5 294.0C250.3 294.1 251.1 294.2 251.9 294.4C252.8 294.5 253.6 294.6 254.5 294.7C255.3 294.8 256.2 294.9 257.0 295.0C257.9 295.0 258.7 295.1 259.6 295.2C260.4 295.3 261.3 295.4 262.1 295.4C262.9 295.5 263.8 295.6 264.6 295.7C265.5 295.7 266.3 295.8 267.2 295.8C268.0 295.9 268.9 296.0 269.7 296.0C270.6 296.1 271.4 296.1 272.3 296.2C273.1 296.2 274.0 296.3 274.8 296.3C275.7 296.4 276.5 296.4 277.4 296.4C278.2 296.5 279.0 296.5 279.9 296.5C280.7 296.6 281.6 296.6 282.4 296.6C283.3 296.7 284.1 296.7 285.0 296.7C285.8 296.8 286.7 296.8 287.5 296.8C288.4 296.9 289.2 296.9 290.1 296.9C290.9 296.9 291.8 296.9 292.6 297.0C293.4 297.0 294.3 297.0 295.1 297.0C296.0 297.0 296.8 297.1 297.7 297.1C298.5 297.1 299.4 297.1 300.2 297.1C301.1 297.2 301.9 297.2 302.8 297.2C303.6 297.2 304.5 297.2 305.3 297.2C306.2 297.2 307.0 297.2 307.9 297.3C308.7 297.3 309.5 297.3 310.4 297.3C311.2 297.3 312.1 297.3 312.9 297.3C313.8 297.3 314.6 297.3 315.5 297.4C316.3 297.4 317.2 297.4 318.0 297.4C318.9 297.4 319.7 297.4 320.6 297.4C321.4 297.4 322.3 297.4 323.1 297.4C323.9 297.4 324.8 297.4 325.6 297.4C326.5 297.4 327.3 297.5 328.2 297.5C329.0 297.5 329.9 297.5 330.7 297.5C331.6 297.5 332.4 297.5 333.3 297.5C334.1 297.5 335.0 297.5 335.8 297.5C336.7 297.5 337.5 297.5 338.3 297.5C339.2 297.5 340.0 297.5 340.9 297.5C341.7 297.5 342.6 297.5 343.4 297.5C344.3 297.5 345.1 297.5 346.0 297.5C346.8 297.6 347.7 297.6 348.5 297.6C349.4 297.6 350.2 297.6 351.1 297.6C351.9 297.6 352.8 297.6 353.6 297.6C354.4 297.6 355.3 297.6 356.1 297.6C357.0 297.6 357.8 297.6 358.7 297.6C359.5 297.6 360.4 297.6 361.2 297.6C362.1 297.6 362.9 297.6 363.8 297.6C364.6 297.6 365.5 297.6 366.3 297.6C367.2 297.6 368.0 297.6 368.8 297.6C369.7 297.6 370.5 297.6 371.4 297.6C372.2 297.6 373.1 297.6 373.9 297.6C374.8 297.6 375.6 297.6 376.5 297.6C377.3 297.6 378.2 297.6 379.0 297.6C379.9 297.6 380.7 297.6 381.6 297.6C382.4 297.6 383.3 297.6 384.1 297.6C384.9 297.6 385.8 297.6 386.6 297.6C387.5 297.6 388.3 297.6 389.2 297.6C390.0 297.6 390.9 297.6 391.7 297.6C392.6 297.7 393.4 297.7 394.3 297.7C395.1 297.7 396.0 297.7 396.8 297.7C397.7 297.7 398.5 297.7 399.3 297.7C400.2 297.7 401.0 297.7 401.9 297.7C402.7 297.7 403.6 297.7 404.4 297.7C405.3 297.7 406.1 297.7 407.0 297.7C407.8 297.7 408.7 297.7 409.5 297.7C410.4 297.7 411.2 297.7 412.1 297.7C412.9 297.7 413.8 297.7 414.6 297.7C415.4 297.7 416.3 297.7 417.1 297.7C418.0 297.7 418.8 297.7 419.7 297.7C420.5 297.7 421.4 297.7 422.2 297.7C423.1 297.7 423.9 297.7 424.8 297.7C425.6 297.7 426.5 297.7 427.3 297.7C428.2 297.7 429.0 297.7 429.8 297.7C430.7 297.7 431.5 297.7 432.4 297.7C433.2 297.7 434.1 297.7 434.9 297.7C435.8 297.7 436.6 297.7 437.5 297.7C438.3 297.7 439.2 297.7 440.0 297.7C440.9 297.7 441.7 297.7 442.6 297.7C443.4 297.7 444.3 297.7 445.1 297.7C445.9 297.7 446.8 297.7 447.6 297.7C448.5 297.7 449.3 297.7 450.2 297.7C451.0 297.7 451.9 297.7 452.7 297.7C453.6 297.7 454.4 297.7 455.3 297.7C456.1 297.7 457.0 297.7 457.8 297.7C458.7 297.7 459.5 297.7 460.3 297.7C461.2 297.7 462.0 297.7 462.9 297.7C463.7 297.7 464.6 297.7 465.4 297.7C466.3 297.7 467.1 297.7 468.0 297.7C468.8 297.7 469.7 297.7 470.5 297.7C471.4 297.7 472.2 297.7 473.1 297.7C473.9 297.7 474.8 297.7 475.6 297.7C476.4 297.7 477.3 297.7 478.1 297.7C479.0 297.7 479.8 297.7 480.7 297.7C481.5 297.7 482.4 297.7 483.2 297.7C484.1 297.7 484.9 297.7 485.8 297.7C486.6 297.7 487.5 297.7 488.3 297.7C489.2 297.8 490.0 297.8 490.8 297.8C491.7 297.8 492.5 297.8 493.4 297.8C494.2 297.8 495.1 297.8 495.9 297.8C496.8 297.8 498.2 297.8 498.6 297.8" class="cv"/>
<path d="M76.90 418.65V699.90H500.00" class="ax"/>
<path d="M67.70 699.90H76.90M71.20 668.65H76.90M67.70 637.40H76.90M71.20 606.15H76.90M67.70 574.90H76.90M71.20 543.65H76.90M67.70 512.40H76.90M71.20 481.15H76.90M67.70 449.90H76.90M71.20 418.65H76.90M76.90 699.90V708.90M119.07 699.90V705.20M161.24 699.90V708.90M203.41 699.90V705.20M245.58 699.90V708.90M287.75 699.90V705.20M329.92 699.90V708.90M372.09 699.90V705.20M414.26 699.90V708.90M456.43 699.90V705.20M498.60 699.90V708.90" class="ax"/>
<text x="65.5" y="706.30" class="tl" text-anchor="end">0</text>
<text x="65.5" y="643.80" class="tl" text-anchor="end">100</text>
<text x="65.5" y="581.30" class="tl" text-anchor="end">200</text>
<text x="65.5" y="518.80" class="tl" text-anchor="end">300</text>
<text x="65.5" y="456.30" class="tl" text-anchor="end">400</text>
<text x="76.90" y="729.90" class="tl" text-anchor="middle">0</text>
<text x="161.24" y="729.90" class="tl" text-anchor="middle">200</text>
<text x="245.58" y="729.90" class="tl" text-anchor="middle">400</text>
<text x="329.92" y="729.90" class="tl" text-anchor="middle">600</text>
<text x="414.26" y="729.90" class="tl" text-anchor="middle">800</text>
<text x="498.60" y="729.90" class="tl" text-anchor="middle">1000</text>
<text x="287" y="760.90" class="tt" text-anchor="middle">Time (sec)</text>
<text transform="translate(18.5 560.40) rotate(-90)" class="tt" text-anchor="middle">Resonance unit (RU)</text>
<text x="0.5" y="417.40" class="pl">B</text>
<text x="380.00" y="480.00" class="lb" style="font-size:24.5px">N8-GP</text>
<path d="M76.90 699.60C77.0 699.2 77.3 698.0 77.4 697.1C77.6 696.3 77.8 695.5 77.9 694.7C78.1 693.8 78.2 693.0 78.4 692.2C78.6 691.4 78.7 690.6 78.9 689.7C79.1 688.9 79.3 688.1 79.5 687.2C79.6 686.4 79.8 685.6 80.1 684.8C80.3 683.9 80.5 683.0 80.8 682.2C81.0 681.4 81.3 680.5 81.6 679.7C81.9 678.9 82.2 678.1 82.6 677.4C82.9 676.6 83.3 675.8 83.7 675.1C84.2 674.3 84.6 673.6 85.1 672.9C85.6 672.3 86.1 671.6 86.6 670.9C87.2 670.3 87.8 669.7 88.4 669.1C88.9 668.5 89.6 667.9 90.2 667.3C90.8 666.8 91.4 666.2 92.1 665.7C92.7 665.1 93.4 664.6 94.0 664.1C94.7 663.6 95.4 663.1 96.0 662.6C96.7 662.1 97.4 661.6 98.1 661.1C98.8 660.6 99.5 660.1 100.2 659.6C100.9 659.2 101.6 658.7 102.3 658.3C103.0 657.8 103.8 657.4 104.5 656.9C105.2 656.5 105.9 656.1 106.6 655.7C107.4 655.3 108.1 654.9 108.9 654.5C109.6 654.1 110.3 653.7 111.1 653.3C111.8 652.9 112.6 652.6 113.4 652.2C114.1 651.8 114.9 651.5 115.7 651.2C116.4 650.8 117.2 650.5 118.0 650.1C118.8 649.8 119.6 649.5 120.3 649.2C121.1 648.8 121.9 648.5 122.7 648.2C123.5 647.9 124.3 647.6 125.1 647.3C125.9 647.0 126.7 646.8 127.4 646.5C128.2 646.2 129.0 645.9 129.8 645.7C130.6 645.4 131.4 645.1 132.2 644.9C133.0 644.6 133.8 644.4 134.6 644.2C135.4 643.9 136.3 643.7 137.1 643.4C137.9 643.2 138.7 643.0 139.5 642.7C140.3 642.5 141.1 642.3 142.0 642.1C142.8 641.9 143.6 641.7 144.4 641.4C145.2 641.2 146.0 641.0 146.9 640.8C147.7 640.6 148.5 640.4 149.3 640.2C150.1 640.1 150.9 639.9 151.8 639.7C152.6 639.5 153.4 639.3 154.2 639.1C155.0 639.0 155.8 638.8 156.6 638.6C157.5 638.4 158.3 638.3 159.2 638.1C160.0 637.9 160.8 637.8 161.7 637.6C162.5 637.4 163.3 637.3 164.2 637.1C165.0 636.9 165.8 636.8 166.7 636.6C167.5 636.5 168.3 636.3 169.2 636.2C170.0 636.0 170.8 635.9 171.7 635.7C172.5 635.6 173.3 635.4 174.2 635.3C175.0 635.1 175.8 635.0 176.7 634.8C177.5 634.7 178.3 634.6 179.2 634.4C180.0 634.3 180.8 634.1 181.7 634.0C182.5 633.9 183.3 633.7 184.2 633.6C185.0 633.5 185.8 633.3 186.7 633.2C187.5 633.1 188.3 632.9 189.2 632.8C190.0 632.7 190.9 632.5 191.7 632.4C192.5 632.3 193.4 632.2 194.2 632.0C195.0 631.9 195.9 631.8 196.7 631.7C197.5 631.5 198.4 631.4 199.2 631.3C200.0 631.2 200.9 631.1 201.7 630.9C202.5 630.8 203.4 630.7 204.2 630.6C205.0 630.5 205.9 630.3 206.7 630.2C207.5 630.1 208.4 630.0 209.2 629.9C210.0 629.7 210.9 629.6 211.7 629.5C212.5 629.4 213.4 629.3 214.2 629.2C215.0 629.1 215.9 628.9 216.7 628.8C217.5 628.7 218.4 628.6 219.2 628.5C220.0 628.4 220.9 628.3 221.7 628.1C222.6 628.0 223.4 627.9 224.2 627.8C225.1 627.7 225.9 627.6 226.7 627.5C227.6 627.4 228.4 627.2 229.2 627.1C230.1 627.0 230.9 626.9 231.7 626.8C232.6 626.7 233.4 626.6 234.2 626.5C235.1 626.4 235.9 626.3 236.7 626.1C237.6 626.0 238.4 625.9 239.2 625.8C240.1 625.7 240.9 625.6 241.7 625.5C242.6 625.4 243.6 625.3 244.2 625.2C244.9 625.1 245.5 625.0 245.8 625.0L245.80 624.97C245.9 625.4 246.3 626.7 246.6 627.5C246.8 628.4 247.1 629.2 247.4 630.0C247.8 630.8 248.1 631.5 248.5 632.3C248.8 633.0 249.2 633.7 249.7 634.5C250.1 635.2 250.6 635.9 251.1 636.6C251.6 637.3 252.2 638.0 252.8 638.6C253.3 639.3 253.9 639.8 254.5 640.4C255.1 641.0 255.8 641.6 256.4 642.1C257.1 642.7 257.7 643.2 258.4 643.7C259.1 644.2 259.8 644.7 260.5 645.2C261.2 645.7 261.9 646.1 262.6 646.6C263.3 647.0 264.0 647.5 264.8 647.9C265.5 648.3 266.2 648.7 267.0 649.1C267.7 649.6 268.5 650.0 269.3 650.3C270.0 650.7 270.8 651.1 271.5 651.5C272.3 651.8 273.0 652.1 273.8 652.5C274.6 652.8 275.4 653.2 276.1 653.5C276.9 653.8 277.7 654.1 278.5 654.4C279.3 654.7 280.1 655.0 280.9 655.3C281.7 655.6 282.5 655.9 283.3 656.1C284.1 656.4 284.9 656.7 285.7 656.9C286.5 657.2 287.3 657.4 288.1 657.7C288.9 657.9 289.7 658.1 290.5 658.4C291.3 658.6 292.1 658.8 293.0 659.0C293.8 659.2 294.6 659.5 295.4 659.7C296.2 659.9 297.1 660.1 297.9 660.3C298.7 660.5 299.5 660.6 300.4 660.8C301.2 661.0 302.0 661.2 302.8 661.4C303.6 661.5 304.5 661.7 305.3 661.9C306.1 662.0 306.9 662.2 307.8 662.4C308.6 662.5 309.4 662.7 310.2 662.8C311.0 663.0 311.9 663.1 312.7 663.3C313.5 663.4 314.3 663.6 315.1 663.7C316.0 663.8 316.8 664.0 317.7 664.1C318.5 664.3 319.4 664.4 320.2 664.5C321.0 664.7 321.9 664.8 322.7 664.9C323.6 665.0 324.4 665.2 325.3 665.3C326.1 665.4 326.9 665.5 327.8 665.6C328.6 665.8 329.5 665.9 330.3 666.0C331.2 666.1 332.0 666.2 332.8 666.3C333.7 666.4 334.5 666.6 335.4 666.7C336.2 666.8 337.1 666.9 337.9 667.0C338.7 667.1 339.6 667.2 340.4 667.3C341.3 667.4 342.1 667.5 343.0 667.6C343.8 667.7 344.6 667.8 345.5 667.9C346.3 668.0 347.2 668.1 348.0 668.2C348.9 668.2 349.7 668.3 350.5 668.4C351.4 668.5 352.2 668.6 353.1 668.7C353.9 668.8 354.8 668.9 355.6 669.0C356.4 669.0 357.3 669.1 358.1 669.2C359.0 669.3 359.8 669.4 360.7 669.5C361.5 669.5 362.3 669.6 363.2 669.7C364.0 669.8 364.9 669.9 365.7 669.9C366.6 670.0 367.4 670.1 368.2 670.2C369.1 670.2 369.9 670.3 370.8 670.4C371.6 670.5 372.5 670.5 373.3 670.6C374.1 670.7 375.0 670.8 375.8 670.8C376.7 670.9 377.5 671.0 378.4 671.0C379.2 671.1 380.0 671.2 380.9 671.3C381.7 671.3 382.6 671.4 383.4 671.5C384.3 671.5 385.1 671.6 385.9 671.7C386.8 671.7 387.6 671.8 388.5 671.9C389.3 671.9 390.2 672.0 391.0 672.0C391.8 672.1 392.7 672.2 393.5 672.2C394.4 672.3 395.2 672.4 396.1 672.4C396.9 672.5 397.7 672.5 398.6 672.6C399.4 672.7 400.3 672.7 401.1 672.8C402.0 672.8 402.8 672.9 403.6 672.9C404.5 673.0 405.3 673.1 406.2 673.1C407.0 673.2 407.9 673.2 408.7 673.3C409.6 673.3 410.4 673.4 411.2 673.5C412.1 673.5 412.9 673.6 413.8 673.6C414.6 673.7 415.5 673.7 416.3 673.8C417.1 673.8 418.0 673.9 418.8 673.9C419.7 674.0 420.5 674.0 421.4 674.1C422.2 674.1 423.0 674.2 423.9 674.2C424.7 674.3 425.6 674.3 426.4 674.4C427.3 674.4 428.1 674.5 428.9 674.5C429.8 674.6 430.6 674.6 431.5 674.7C432.3 674.7 433.2 674.8 434.0 674.8C434.8 674.9 435.7 674.9 436.5 674.9C437.4 675.0 438.2 675.0 439.1 675.1C439.9 675.1 440.7 675.2 441.6 675.2C442.4 675.3 443.3 675.3 444.1 675.3C445.0 675.4 445.8 675.4 446.6 675.5C447.5 675.5 448.3 675.6 449.2 675.6C450.0 675.6 450.9 675.7 451.7 675.7C452.5 675.8 453.4 675.8 454.2 675.8C455.1 675.9 455.9 675.9 456.8 676.0C457.6 676.0 458.4 676.0 459.3 676.1C460.1 676.1 461.0 676.2 461.8 676.2C462.7 676.2 463.5 676.3 464.3 676.3C465.2 676.3 466.0 676.4 466.9 676.4C467.7 676.5 468.6 676.5 469.4 676.5C470.2 676.6 471.1 676.6 471.9 676.6C472.8 676.7 473.6 676.7 474.5 676.7C475.3 676.8 476.1 676.8 477.0 676.8C477.8 676.9 478.7 676.9 479.5 676.9C480.4 677.0 481.2 677.0 482.0 677.0C482.9 677.1 483.7 677.1 484.6 677.1C485.4 677.2 486.3 677.2 487.1 677.2C487.9 677.3 488.8 677.3 489.6 677.3C490.5 677.4 491.3 677.4 492.2 677.4C493.0 677.5 493.8 677.5 494.7 677.5C495.5 677.5 496.6 677.6 497.2 677.6C497.9 677.6 498.4 677.6 498.6 677.7" class="cv"/>
<path d="M76.90 699.60C77.1 699.3 77.8 698.2 78.3 697.5C78.8 696.9 79.4 696.2 80.0 695.6C80.5 695.0 81.2 694.4 81.8 693.8C82.4 693.2 83.1 692.7 83.8 692.2C84.5 691.8 85.2 691.3 85.9 690.9C86.6 690.5 87.4 690.1 88.1 689.7C88.9 689.4 89.7 689.0 90.4 688.7C91.2 688.4 92.0 688.1 92.8 687.8C93.6 687.5 94.4 687.2 95.2 687.0C96.0 686.7 96.7 686.4 97.6 686.2C98.4 685.9 99.2 685.7 100.0 685.5C100.8 685.2 101.6 685.0 102.5 684.8C103.3 684.6 104.1 684.4 104.9 684.1C105.7 683.9 106.5 683.7 107.4 683.5C108.2 683.4 109.0 683.2 109.8 683.0C110.6 682.8 111.4 682.6 112.3 682.4C113.1 682.3 113.9 682.1 114.7 681.9C115.5 681.8 116.4 681.6 117.2 681.4C118.0 681.3 118.9 681.1 119.7 681.0C120.5 680.8 121.4 680.7 122.2 680.5C123.1 680.4 123.9 680.3 124.7 680.1C125.6 680.0 126.4 679.9 127.2 679.7C128.1 679.6 128.9 679.5 129.7 679.4C130.6 679.2 131.4 679.1 132.2 679.0C133.1 678.9 133.9 678.8 134.7 678.7C135.6 678.6 136.4 678.4 137.3 678.3C138.1 678.2 138.9 678.1 139.8 678.0C140.6 677.9 141.4 677.8 142.3 677.7C143.1 677.6 143.9 677.6 144.8 677.5C145.6 677.4 146.4 677.3 147.3 677.2C148.1 677.1 148.9 677.0 149.8 676.9C150.6 676.9 151.5 676.8 152.3 676.7C153.1 676.6 154.0 676.5 154.8 676.5C155.6 676.4 156.5 676.3 157.3 676.2C158.1 676.2 159.0 676.1 159.8 676.0C160.6 675.9 161.5 675.9 162.3 675.8C163.1 675.7 164.0 675.6 164.8 675.6C165.7 675.5 166.5 675.4 167.3 675.4C168.2 675.3 169.0 675.2 169.8 675.2C170.7 675.1 171.5 675.0 172.3 675.0C173.2 674.9 174.0 674.9 174.8 674.8C175.7 674.7 176.5 674.7 177.3 674.6C178.2 674.5 179.0 674.5 179.8 674.4C180.7 674.4 181.5 674.3 182.4 674.2C183.2 674.2 184.0 674.1 184.9 674.1C185.7 674.0 186.5 673.9 187.4 673.9C188.2 673.8 189.0 673.8 189.9 673.7C190.7 673.6 191.5 673.6 192.4 673.5C193.2 673.5 194.0 673.4 194.9 673.4C195.7 673.3 196.6 673.2 197.4 673.2C198.2 673.1 199.1 673.1 199.9 673.0C200.7 673.0 201.6 672.9 202.4 672.8C203.2 672.8 204.1 672.7 204.9 672.7C205.7 672.6 206.6 672.6 207.4 672.5C208.2 672.4 209.1 672.4 209.9 672.3C210.8 672.3 211.6 672.2 212.4 672.2C213.3 672.1 214.1 672.1 214.9 672.0C215.8 671.9 216.6 671.9 217.4 671.8C218.3 671.8 219.1 671.7 219.9 671.7C220.8 671.6 221.6 671.6 222.4 671.5C223.3 671.5 224.1 671.4 225.0 671.3C225.8 671.3 226.6 671.2 227.5 671.2C228.3 671.1 229.1 671.1 230.0 671.0C230.8 671.0 231.6 670.9 232.5 670.9C233.3 670.8 234.1 670.7 235.0 670.7C235.8 670.6 236.6 670.6 237.5 670.5C238.3 670.5 239.2 670.4 240.0 670.4C240.8 670.3 241.7 670.3 242.5 670.2C243.3 670.1 244.4 670.1 245.0 670.0C245.6 670.0 245.8 670.0 246.0 670.0L246.00 669.98C246.3 670.3 246.9 671.4 247.5 672.0C248.1 672.5 249.0 672.9 249.7 673.3C250.5 673.7 251.2 674.1 251.9 674.4C252.7 674.8 253.4 675.2 254.2 675.5C255.0 675.9 255.8 676.2 256.5 676.6C257.3 676.9 258.1 677.2 258.9 677.5C259.7 677.8 260.5 678.1 261.3 678.3C262.1 678.6 262.9 678.9 263.7 679.1C264.5 679.4 265.3 679.6 266.1 679.8C266.9 680.1 267.7 680.3 268.6 680.5C269.4 680.7 270.2 680.9 271.0 681.1C271.8 681.3 272.7 681.5 273.5 681.6C274.3 681.8 275.1 682.0 275.9 682.1C276.8 682.3 277.6 682.4 278.4 682.6C279.2 682.7 280.1 682.9 280.9 683.0C281.8 683.2 282.6 683.3 283.5 683.4C284.3 683.5 285.1 683.7 286.0 683.8C286.8 683.9 287.7 684.0 288.5 684.1C289.4 684.2 290.2 684.3 291.0 684.4C291.9 684.5 292.7 684.6 293.6 684.7C294.4 684.8 295.2 684.9 296.1 684.9C296.9 685.0 297.8 685.1 298.6 685.2C299.5 685.3 300.3 685.3 301.1 685.4C302.0 685.5 302.8 685.6 303.7 685.6C304.5 685.7 305.4 685.8 306.2 685.8C307.0 685.9 307.9 686.0 308.7 686.0C309.6 686.1 310.4 686.1 311.3 686.2C312.1 686.2 312.9 686.3 313.8 686.4C314.6 686.4 315.5 686.5 316.3 686.5C317.1 686.6 318.0 686.6 318.8 686.7C319.7 686.7 320.5 686.8 321.4 686.8C322.2 686.8 323.0 686.9 323.9 686.9C324.7 687.0 325.6 687.0 326.4 687.1C327.3 687.1 328.1 687.1 328.9 687.2C329.8 687.2 330.6 687.3 331.5 687.3C332.3 687.3 333.1 687.4 334.0 687.4C334.8 687.5 335.7 687.5 336.5 687.5C337.4 687.6 338.2 687.6 339.0 687.6C339.9 687.7 340.7 687.7 341.6 687.7C342.4 687.8 343.3 687.8 344.1 687.8C344.9 687.9 345.8 687.9 346.6 687.9C347.5 688.0 348.3 688.0 349.1 688.0C350.0 688.0 350.8 688.1 351.7 688.1C352.5 688.1 353.4 688.2 354.2 688.2C355.0 688.2 355.9 688.2 356.7 688.3C357.6 688.3 358.4 688.3 359.3 688.4C360.1 688.4 360.9 688.4 361.8 688.4C362.6 688.5 363.5 688.5 364.3 688.5C365.2 688.5 366.0 688.6 366.8 688.6C367.7 688.6 368.5 688.6 369.4 688.7C370.2 688.7 371.0 688.7 371.9 688.7C372.7 688.8 373.6 688.8 374.4 688.8C375.3 688.8 376.1 688.9 376.9 688.9C377.8 688.9 378.6 688.9 379.5 689.0C380.3 689.0 381.2 689.0 382.0 689.0C382.8 689.1 383.7 689.1 384.5 689.1C385.4 689.1 386.2 689.1 387.0 689.2C387.9 689.2 388.7 689.2 389.6 689.2C390.4 689.2 391.3 689.3 392.1 689.3C392.9 689.3 393.8 689.3 394.6 689.4C395.5 689.4 396.3 689.4 397.2 689.4C398.0 689.4 398.8 689.5 399.7 689.5C400.5 689.5 401.4 689.5 402.2 689.5C403.1 689.6 403.9 689.6 404.7 689.6C405.6 689.6 406.4 689.6 407.3 689.7C408.1 689.7 408.9 689.7 409.8 689.7C410.6 689.7 411.5 689.8 412.3 689.8C413.2 689.8 414.0 689.8 414.8 689.8C415.7 689.9 416.5 689.9 417.4 689.9C418.2 689.9 419.1 689.9 419.9 689.9C420.7 690.0 421.6 690.0 422.4 690.0C423.3 690.0 424.1 690.0 424.9 690.1C425.8 690.1 426.6 690.1 427.5 690.1C428.3 690.1 429.2 690.2 430.0 690.2C430.8 690.2 431.7 690.2 432.5 690.2C433.4 690.2 434.2 690.3 435.1 690.3C435.9 690.3 436.7 690.3 437.6 690.3C438.4 690.3 439.3 690.4 440.1 690.4C441.0 690.4 441.8 690.4 442.6 690.4C443.5 690.4 444.3 690.5 445.2 690.5C446.0 690.5 446.8 690.5 447.7 690.5C448.5 690.6 449.4 690.6 450.2 690.6C451.1 690.6 451.9 690.6 452.7 690.6C453.6 690.7 454.4 690.7 455.3 690.7C456.1 690.7 457.0 690.7 457.8 690.7C458.6 690.8 459.5 690.8 460.3 690.8C461.2 690.8 462.0 690.8 462.8 690.8C463.7 690.8 464.5 690.9 465.4 690.9C466.2 690.9 467.1 690.9 467.9 690.9C468.7 690.9 469.6 691.0 470.4 691.0C471.3 691.0 472.1 691.0 473.0 691.0C473.8 691.0 474.6 691.1 475.5 691.1C476.3 691.1 477.2 691.1 478.0 691.1C478.9 691.1 479.7 691.2 480.5 691.2C481.4 691.2 482.2 691.2 483.1 691.2C483.9 691.2 484.7 691.2 485.6 691.3C486.4 691.3 487.3 691.3 488.1 691.3C489.0 691.3 489.8 691.3 490.6 691.4C491.5 691.4 492.3 691.4 493.2 691.4C494.0 691.4 494.8 691.4 495.7 691.4C496.6 691.5 498.1 691.5 498.6 691.5" class="cv"/>
<path d="M76.90 699.60C77.3 699.4 78.4 698.8 79.2 698.5C79.9 698.2 80.8 697.9 81.6 697.6C82.4 697.4 83.2 697.1 84.0 696.9C84.8 696.7 85.7 696.6 86.5 696.4C87.3 696.3 88.2 696.1 89.0 696.0C89.8 695.9 90.7 695.8 91.5 695.7C92.3 695.6 93.2 695.5 94.0 695.5C94.8 695.4 95.7 695.3 96.5 695.3C97.3 695.2 98.2 695.1 99.0 695.1C99.8 695.0 100.7 695.0 101.5 694.9C102.3 694.9 103.2 694.8 104.0 694.8C104.8 694.8 105.7 694.7 106.5 694.7C107.3 694.6 108.2 694.6 109.0 694.5C109.8 694.5 110.7 694.5 111.5 694.4C112.3 694.4 113.2 694.3 114.0 694.3C114.8 694.2 115.7 694.2 116.5 694.2C117.3 694.1 118.2 694.1 119.0 694.0C119.8 694.0 120.7 693.9 121.5 693.9C122.3 693.8 123.2 693.8 124.0 693.7C124.8 693.7 125.7 693.6 126.5 693.6C127.3 693.5 128.2 693.5 129.0 693.5C129.8 693.4 130.7 693.4 131.5 693.3C132.3 693.3 133.2 693.2 134.0 693.2C134.8 693.1 135.7 693.1 136.5 693.0C137.3 693.0 138.2 692.9 139.0 692.9C139.8 692.8 140.7 692.8 141.5 692.7C142.3 692.7 143.2 692.7 144.0 692.6C144.8 692.6 145.7 692.5 146.5 692.5C147.3 692.4 148.2 692.4 149.0 692.4C149.8 692.3 150.7 692.3 151.5 692.3C152.3 692.2 153.2 692.2 154.0 692.1C154.8 692.1 155.7 692.1 156.5 692.0C157.3 692.0 158.2 692.0 159.0 692.0C159.8 691.9 160.7 691.9 161.5 691.9C162.3 691.8 163.2 691.8 164.0 691.8C164.8 691.8 165.7 691.7 166.5 691.7C167.3 691.7 168.2 691.7 169.0 691.6C169.8 691.6 170.7 691.6 171.5 691.6C172.3 691.6 173.2 691.5 174.0 691.5C174.8 691.5 175.7 691.5 176.5 691.5C177.3 691.5 178.2 691.4 179.0 691.4C179.8 691.4 180.7 691.4 181.5 691.4C182.3 691.3 183.2 691.3 184.0 691.3C184.8 691.3 185.7 691.3 186.5 691.3C187.3 691.3 188.2 691.2 189.0 691.2C189.8 691.2 190.7 691.2 191.5 691.2C192.3 691.2 193.2 691.1 194.0 691.1C194.8 691.1 195.7 691.1 196.5 691.1C197.3 691.1 198.2 691.1 199.0 691.0C199.8 691.0 200.7 691.0 201.5 691.0C202.3 691.0 203.2 691.0 204.0 691.0C204.8 690.9 205.7 690.9 206.5 690.9C207.3 690.9 208.2 690.9 209.0 690.9C209.8 690.9 210.7 690.8 211.5 690.8C212.3 690.8 213.2 690.8 214.0 690.8C214.8 690.8 215.7 690.8 216.5 690.7C217.3 690.7 218.2 690.7 219.0 690.7C219.8 690.7 220.7 690.7 221.5 690.7C222.3 690.6 223.2 690.6 224.0 690.6C224.8 690.6 225.7 690.6 226.5 690.6C227.3 690.6 228.2 690.5 229.0 690.5C229.8 690.5 230.7 690.5 231.5 690.5C232.3 690.5 233.2 690.5 234.0 690.4C234.8 690.4 235.7 690.4 236.5 690.4C237.3 690.4 238.1 690.4 239.0 690.4C239.9 690.3 241.5 690.3 242.0 690.3L242.00 690.31C242.4 690.4 243.6 690.7 244.4 690.9C245.3 691.1 246.1 691.3 246.9 691.5C247.7 691.7 248.5 691.8 249.4 692.0C250.2 692.1 251.0 692.3 251.9 692.4C252.7 692.6 253.5 692.7 254.4 692.8C255.2 693.0 256.1 693.1 256.9 693.2C257.7 693.3 258.6 693.4 259.4 693.5C260.2 693.6 261.1 693.7 261.9 693.8C262.7 693.9 263.6 694.0 264.4 694.0C265.2 694.1 266.1 694.2 266.9 694.3C267.7 694.4 268.6 694.4 269.4 694.5C270.2 694.6 271.1 694.6 271.9 694.7C272.7 694.7 273.6 694.8 274.4 694.8C275.2 694.9 276.1 695.0 276.9 695.0C277.7 695.1 278.6 695.1 279.4 695.1C280.2 695.2 281.1 695.2 281.9 695.3C282.7 695.3 283.6 695.4 284.4 695.4C285.2 695.4 286.1 695.5 286.9 695.5C287.8 695.6 288.6 695.6 289.4 695.6C290.3 695.7 291.1 695.7 291.9 695.7C292.8 695.7 293.6 695.8 294.4 695.8C295.3 695.8 296.1 695.9 296.9 695.9C297.8 695.9 298.6 695.9 299.4 696.0C300.3 696.0 301.1 696.0 301.9 696.0C302.8 696.1 303.6 696.1 304.4 696.1C305.3 696.1 306.1 696.2 306.9 696.2C307.8 696.2 308.6 696.2 309.4 696.3C310.3 696.3 311.1 696.3 311.9 696.3C312.8 696.3 313.6 696.4 314.4 696.4C315.3 696.4 316.1 696.4 316.9 696.4C317.8 696.4 318.6 696.5 319.4 696.5C320.3 696.5 321.1 696.5 322.0 696.5C322.8 696.6 323.6 696.6 324.5 696.6C325.3 696.6 326.1 696.6 327.0 696.6C327.8 696.6 328.6 696.7 329.5 696.7C330.3 696.7 331.1 696.7 332.0 696.7C332.8 696.7 333.6 696.8 334.5 696.8C335.3 696.8 336.1 696.8 337.0 696.8C337.8 696.8 338.6 696.8 339.5 696.8C340.3 696.9 341.1 696.9 342.0 696.9C342.8 696.9 343.6 696.9 344.5 696.9C345.3 696.9 346.1 697.0 347.0 697.0C347.8 697.0 348.6 697.0 349.5 697.0C350.3 697.0 351.1 697.0 352.0 697.0C352.8 697.0 353.6 697.1 354.5 697.1C355.3 697.1 356.2 697.1 357.0 697.1C357.8 697.1 358.7 697.1 359.5 697.1C360.3 697.1 361.2 697.2 362.0 697.2C362.8 697.2 363.7 697.2 364.5 697.2C365.3 697.2 366.2 697.2 367.0 697.2C367.8 697.2 368.7 697.2 369.5 697.3C370.3 697.3 371.2 697.3 372.0 697.3C372.8 697.3 373.7 697.3 374.5 697.3C375.3 697.3 376.2 697.3 377.0 697.3C377.8 697.4 378.7 697.4 379.5 697.4C380.3 697.4 381.2 697.4 382.0 697.4C382.8 697.4 383.7 697.4 384.5 697.4C385.3 697.4 386.2 697.4 387.0 697.4C387.8 697.5 388.7 697.5 389.5 697.5C390.4 697.5 391.2 697.5 392.0 697.5C392.9 697.5 393.7 697.5 394.5 697.5C395.4 697.5 396.2 697.5 397.0 697.5C397.9 697.5 398.7 697.6 399.5 697.6C400.4 697.6 401.2 697.6 402.0 697.6C402.9 697.6 403.7 697.6 404.5 697.6C405.4 697.6 406.2 697.6 407.0 697.6C407.9 697.6 408.7 697.6 409.5 697.6C410.4 697.7 411.2 697.7 412.0 697.7C412.9 697.7 413.7 697.7 414.5 697.7C415.4 697.7 416.2 697.7 417.0 697.7C417.9 697.7 418.7 697.7 419.5 697.7C420.4 697.7 421.2 697.7 422.0 697.7C422.9 697.7 423.7 697.8 424.6 697.8C425.4 697.8 426.2 697.8 427.1 697.8C427.9 697.8 428.7 697.8 429.6 697.8C430.4 697.8 431.2 697.8 432.1 697.8C432.9 697.8 433.7 697.8 434.6 697.8C435.4 697.8 436.2 697.8 437.1 697.8C437.9 697.8 438.7 697.9 439.6 697.9C440.4 697.9 441.2 697.9 442.1 697.9C442.9 697.9 443.7 697.9 444.6 697.9C445.4 697.9 446.2 697.9 447.1 697.9C447.9 697.9 448.7 697.9 449.6 697.9C450.4 697.9 451.2 697.9 452.1 697.9C452.9 697.9 453.7 697.9 454.6 697.9C455.4 698.0 456.3 698.0 457.1 698.0C457.9 698.0 458.8 698.0 459.6 698.0C460.4 698.0 461.3 698.0 462.1 698.0C462.9 698.0 463.8 698.0 464.6 698.0C465.4 698.0 466.3 698.0 467.1 698.0C467.9 698.0 468.8 698.0 469.6 698.0C470.4 698.0 471.3 698.0 472.1 698.0C472.9 698.0 473.8 698.0 474.6 698.0C475.4 698.1 476.3 698.1 477.1 698.1C477.9 698.1 478.8 698.1 479.6 698.1C480.4 698.1 481.3 698.1 482.1 698.1C482.9 698.1 483.8 698.1 484.6 698.1C485.4 698.1 486.3 698.1 487.1 698.1C487.9 698.1 488.8 698.1 489.6 698.1C490.5 698.1 491.3 698.1 492.1 698.1C493.0 698.1 493.8 698.1 494.6 698.1C495.5 698.1 496.5 698.1 497.1 698.1C497.8 698.1 498.4 698.1 498.6 698.1" class="cv"/>
<path d="M76.90 699.60C77.4 699.5 78.9 699.4 79.9 699.3C80.9 699.2 81.8 699.1 82.8 699.0C83.8 698.9 84.8 698.8 85.8 698.7C86.8 698.6 87.8 698.5 88.8 698.5C89.8 698.4 90.8 698.4 91.8 698.3C92.8 698.2 93.8 698.2 94.7 698.2C95.7 698.1 96.7 698.1 97.7 698.1C98.7 698.0 99.7 698.0 100.7 698.0C101.7 698.0 102.7 698.0 103.7 697.9C104.7 697.9 105.7 697.9 106.7 697.9C107.7 697.9 108.7 697.9 109.7 697.9C110.7 697.9 111.7 697.9 112.7 697.8C113.7 697.8 114.6 697.8 115.6 697.8C116.6 697.8 117.6 697.8 118.6 697.8C119.6 697.8 120.6 697.8 121.6 697.8C122.6 697.8 123.6 697.8 124.6 697.8C125.6 697.8 126.6 697.8 127.6 697.8C128.6 697.8 129.6 697.8 130.6 697.8C131.6 697.7 132.6 697.7 133.6 697.7C134.5 697.7 135.5 697.7 136.5 697.7C137.5 697.7 138.5 697.7 139.5 697.7C140.5 697.7 141.5 697.7 142.5 697.7C143.5 697.7 144.5 697.7 145.5 697.7C146.5 697.7 147.5 697.7 148.5 697.7C149.5 697.7 150.5 697.7 151.5 697.7C152.5 697.7 153.5 697.7 154.4 697.7C155.4 697.7 156.4 697.7 157.4 697.7C158.4 697.7 159.4 697.7 160.4 697.7C161.4 697.7 162.4 697.7 163.4 697.7C164.4 697.6 165.4 697.6 166.4 697.6C167.4 697.6 168.4 697.6 169.4 697.6C170.4 697.6 171.4 697.6 172.4 697.6C173.4 697.6 174.3 697.6 175.3 697.6C176.3 697.6 177.3 697.6 178.3 697.6C179.3 697.6 180.3 697.6 181.3 697.6C182.3 697.6 183.3 697.6 184.3 697.6C185.3 697.6 186.3 697.6 187.3 697.6C188.3 697.6 189.3 697.6 190.3 697.6C191.3 697.6 192.3 697.6 193.3 697.6C194.2 697.6 195.2 697.6 196.2 697.6C197.2 697.6 198.2 697.6 199.2 697.6C200.2 697.6 201.2 697.6 202.2 697.6C203.2 697.6 204.2 697.6 205.2 697.6C206.2 697.6 207.2 697.6 208.2 697.6C209.2 697.6 210.2 697.6 211.2 697.6C212.2 697.6 213.2 697.6 214.1 697.6C215.1 697.5 216.1 697.5 217.1 697.5C218.1 697.5 219.1 697.5 220.1 697.5C221.1 697.5 222.1 697.5 223.1 697.5C224.1 697.5 225.1 697.5 226.1 697.5C227.1 697.5 228.1 697.5 229.1 697.5C230.1 697.5 231.1 697.5 232.1 697.5C233.1 697.5 234.0 697.5 235.0 697.5C236.0 697.5 237.0 697.5 238.0 697.5C239.0 697.5 240.0 697.5 241.0 697.5C242.0 697.5 243.5 697.5 244.0 697.5L244.00 697.50C244.5 697.5 246.0 697.5 247.0 697.5C248.0 697.5 249.0 697.5 250.0 697.6C251.0 697.6 252.0 697.6 253.0 697.6C254.0 697.6 255.0 697.6 256.0 697.6C257.0 697.6 258.0 697.6 259.0 697.6C260.0 697.6 261.0 697.7 262.0 697.7C263.0 697.7 264.0 697.7 265.0 697.7C266.0 697.7 267.0 697.7 268.0 697.7C269.0 697.7 270.0 697.7 271.0 697.7C272.0 697.7 273.0 697.7 274.0 697.8C275.0 697.8 275.9 697.8 276.9 697.8C277.9 697.8 278.9 697.8 279.9 697.8C280.9 697.8 281.9 697.8 282.9 697.8C283.9 697.8 284.9 697.8 285.9 697.8C286.9 697.8 287.9 697.8 288.9 697.8C289.9 697.9 290.9 697.9 291.9 697.9C292.9 697.9 293.9 697.9 294.9 697.9C295.9 697.9 296.9 697.9 297.9 697.9C298.9 697.9 299.9 697.9 300.9 697.9C301.9 697.9 302.9 697.9 303.9 697.9C304.9 697.9 305.9 697.9 306.9 697.9C307.9 697.9 308.9 697.9 309.9 697.9C310.9 697.9 311.9 697.9 312.9 697.9C313.9 698.0 314.9 698.0 315.9 698.0C316.9 698.0 317.9 698.0 318.9 698.0C319.9 698.0 320.9 698.0 321.9 698.0C322.9 698.0 323.9 698.0 324.9 698.0C325.9 698.0 326.9 698.0 327.9 698.0C328.9 698.0 329.9 698.0 330.9 698.0C331.9 698.0 332.9 698.0 333.9 698.0C334.9 698.0 335.9 698.0 336.9 698.0C337.9 698.0 338.8 698.0 339.8 698.0C340.8 698.0 341.8 698.0 342.8 698.0C343.8 698.0 344.8 698.0 345.8 698.0C346.8 698.0 347.8 698.0 348.8 698.0C349.8 698.0 350.8 698.0 351.8 698.0C352.8 698.1 353.8 698.1 354.8 698.1C355.8 698.1 356.8 698.1 357.8 698.1C358.8 698.1 359.8 698.1 360.8 698.1C361.8 698.1 362.8 698.1 363.8 698.1C364.8 698.1 365.8 698.1 366.8 698.1C367.8 698.1 368.8 698.1 369.8 698.1C370.8 698.1 371.8 698.1 372.8 698.1C373.8 698.1 374.8 698.1 375.8 698.1C376.8 698.1 377.8 698.1 378.8 698.1C379.8 698.1 380.8 698.1 381.8 698.1C382.8 698.1 383.8 698.1 384.8 698.1C385.8 698.1 386.8 698.1 387.8 698.1C388.8 698.1 389.8 698.1 390.8 698.1C391.8 698.1 392.8 698.1 393.8 698.1C394.8 698.1 395.8 698.1 396.8 698.1C397.8 698.1 398.8 698.1 399.8 698.1C400.8 698.1 401.8 698.1 402.7 698.1C403.7 698.1 404.7 698.1 405.7 698.1C406.7 698.1 407.7 698.1 408.7 698.1C409.7 698.1 410.7 698.1 411.7 698.1C412.7 698.1 413.7 698.1 414.7 698.1C415.7 698.1 416.7 698.1 417.7 698.1C418.7 698.1 419.7 698.1 420.7 698.1C421.7 698.1 422.7 698.1 423.7 698.1C424.7 698.1 425.7 698.1 426.7 698.1C427.7 698.1 428.7 698.1 429.7 698.1C430.7 698.2 431.7 698.2 432.7 698.2C433.7 698.2 434.7 698.2 435.7 698.2C436.7 698.2 437.7 698.2 438.7 698.2C439.7 698.2 440.7 698.2 441.7 698.2C442.7 698.2 443.7 698.2 444.7 698.2C445.7 698.2 446.7 698.2 447.7 698.2C448.7 698.2 449.7 698.2 450.7 698.2C451.7 698.2 452.7 698.2 453.7 698.2C454.7 698.2 455.7 698.2 456.7 698.2C457.7 698.2 458.7 698.2 459.7 698.2C460.7 698.2 461.7 698.2 462.7 698.2C463.7 698.2 464.7 698.2 465.7 698.2C466.6 698.2 467.6 698.2 468.6 698.2C469.6 698.2 470.6 698.2 471.6 698.2C472.6 698.2 473.6 698.2 474.6 698.2C475.6 698.2 476.6 698.2 477.6 698.2C478.6 698.2 479.6 698.2 480.6 698.2C481.6 698.2 482.6 698.2 483.6 698.2C484.6 698.2 485.6 698.2 486.6 698.2C487.6 698.2 488.6 698.2 489.6 698.2C490.6 698.2 491.6 698.2 492.6 698.2C493.6 698.2 494.6 698.2 495.6 698.2C496.6 698.2 498.1 698.2 498.6 698.2" class="cv"/>
<path d="M76.90 818.85V1100.10H500.00" class="ax"/>
<path d="M67.70 1100.10H76.90M71.20 1068.85H76.90M67.70 1037.60H76.90M71.20 1006.35H76.90M67.70 975.10H76.90M71.20 943.85H76.90M67.70 912.60H76.90M71.20 881.35H76.90M67.70 850.10H76.90M71.20 818.85H76.90M76.90 1100.10V1109.10M119.07 1100.10V1105.40M161.24 1100.10V1109.10M203.41 1100.10V1105.40M245.58 1100.10V1109.10M287.75 1100.10V1105.40M329.92 1100.10V1109.10M372.09 1100.10V1105.40M414.26 1100.10V1109.10M456.43 1100.10V1105.40M498.60 1100.10V1109.10" class="ax"/>
<text x="65.5" y="1106.50" class="tl" text-anchor="end">0</text>
<text x="65.5" y="1044.00" class="tl" text-anchor="end">100</text>
<text x="65.5" y="981.50" class="tl" text-anchor="end">200</text>
<text x="65.5" y="919.00" class="tl" text-anchor="end">300</text>
<text x="65.5" y="856.50" class="tl" text-anchor="end">400</text>
<text x="76.90" y="1130.10" class="tl" text-anchor="middle">0</text>
<text x="161.24" y="1130.10" class="tl" text-anchor="middle">200</text>
<text x="245.58" y="1130.10" class="tl" text-anchor="middle">400</text>
<text x="329.92" y="1130.10" class="tl" text-anchor="middle">600</text>
<text x="414.26" y="1130.10" class="tl" text-anchor="middle">800</text>
<text x="498.60" y="1130.10" class="tl" text-anchor="middle">1000</text>
<text x="287" y="1161.10" class="tt" text-anchor="middle">Time (sec)</text>
<text transform="translate(18.5 960.60) rotate(-90)" class="tt" text-anchor="middle">Resonance unit (RU)</text>
<text x="0.5" y="817.60" class="pl">C</text>
<text x="378.50" y="880.00" class="lb" style="font-size:23.5px">RAP</text>
<path d="M76.90 1100.30C77.0 1099.9 77.3 1098.7 77.4 1097.8C77.6 1097.0 77.7 1096.2 77.8 1095.3C78.0 1094.5 78.1 1093.7 78.2 1092.8C78.3 1092.0 78.5 1091.2 78.6 1090.3C78.7 1089.5 78.8 1088.7 78.9 1087.9C79.0 1087.0 79.2 1086.0 79.3 1085.1C79.4 1084.3 79.5 1083.5 79.6 1082.6C79.7 1081.8 79.8 1080.9 80.0 1080.0C80.1 1079.2 80.2 1078.3 80.3 1077.4C80.4 1076.5 80.5 1075.7 80.6 1074.8C80.7 1073.9 80.8 1073.0 81.0 1072.1C81.1 1071.2 81.2 1070.3 81.3 1069.4C81.4 1068.5 81.5 1067.6 81.6 1066.8C81.7 1065.9 81.8 1065.0 82.0 1064.1C82.1 1063.2 82.2 1062.3 82.3 1061.3C82.4 1060.4 82.5 1059.5 82.6 1058.6C82.7 1057.7 82.8 1056.8 83.0 1055.9C83.1 1055.0 83.2 1054.1 83.3 1053.2C83.4 1052.3 83.5 1051.4 83.6 1050.6C83.7 1049.7 83.8 1048.8 83.9 1047.9C84.1 1047.0 84.2 1046.1 84.3 1045.2C84.4 1044.3 84.5 1043.4 84.6 1042.5C84.7 1041.7 84.8 1040.8 84.9 1039.9C85.1 1039.0 85.2 1038.2 85.3 1037.3C85.4 1036.4 85.5 1035.5 85.6 1034.7C85.7 1033.8 85.8 1032.9 85.9 1032.1C86.1 1031.2 86.2 1030.4 86.3 1029.5C86.4 1028.7 86.5 1027.8 86.6 1027.0C86.7 1026.1 86.8 1025.3 86.9 1024.4C87.1 1023.6 87.2 1022.8 87.3 1021.9C87.4 1021.1 87.5 1020.0 87.7 1019.1C87.8 1018.1 87.9 1017.2 88.1 1016.2C88.2 1015.3 88.3 1014.3 88.4 1013.4C88.6 1012.5 88.7 1011.5 88.8 1010.6C89.0 1009.7 89.1 1008.8 89.2 1007.9C89.4 1007.0 89.5 1006.1 89.6 1005.2C89.7 1004.3 89.9 1003.4 90.0 1002.5C90.1 1001.6 90.3 1000.7 90.4 999.9C90.5 999.0 90.6 998.1 90.8 997.3C90.9 996.4 91.0 995.6 91.2 994.7C91.3 993.9 91.4 993.0 91.6 992.2C91.7 991.4 91.8 990.6 91.9 989.7C92.1 988.9 92.2 987.9 92.4 987.0C92.5 986.0 92.7 985.1 92.8 984.2C93.0 983.3 93.1 982.4 93.3 981.6C93.4 980.7 93.6 979.8 93.7 978.9C93.9 978.1 94.0 977.2 94.2 976.4C94.3 975.5 94.5 974.7 94.6 973.8C94.8 973.0 94.9 972.2 95.1 971.4C95.2 970.5 95.4 969.6 95.6 968.7C95.7 967.8 95.9 966.9 96.1 966.0C96.2 965.1 96.4 964.3 96.6 963.4C96.7 962.6 96.9 961.7 97.1 960.9C97.2 960.1 97.4 959.3 97.6 958.4C97.7 957.6 97.9 956.6 98.1 955.7C98.3 954.9 98.5 954.0 98.7 953.2C98.8 952.3 99.0 951.5 99.2 950.6C99.4 949.8 99.6 949.0 99.8 948.2C100.0 947.3 100.2 946.4 100.4 945.6C100.6 944.7 100.8 943.9 101.0 943.0C101.2 942.2 101.4 941.4 101.6 940.6C101.8 939.7 102.0 938.8 102.3 938.0C102.5 937.1 102.7 936.3 102.9 935.5C103.2 934.7 103.4 933.9 103.6 933.1C103.8 932.2 104.1 931.4 104.3 930.6C104.6 929.7 104.8 929.0 105.0 928.1C105.3 927.3 105.6 926.4 105.8 925.6C106.1 924.8 106.3 924.0 106.6 923.2C106.9 922.4 107.1 921.6 107.4 920.8C107.7 920.0 108.0 919.1 108.3 918.3C108.6 917.5 108.9 916.7 109.2 915.9C109.5 915.1 109.8 914.3 110.2 913.5C110.5 912.7 110.8 911.9 111.2 911.1C111.5 910.3 111.9 909.5 112.2 908.7C112.6 907.9 112.9 907.2 113.3 906.4C113.6 905.6 114.0 904.9 114.4 904.1C114.8 903.4 115.1 902.6 115.5 901.9C115.9 901.2 116.3 900.5 116.8 899.7C117.2 899.0 117.6 898.2 118.1 897.5C118.5 896.7 119.0 896.0 119.5 895.3C120.0 894.6 120.4 893.9 120.9 893.2C121.4 892.5 121.9 891.9 122.4 891.2C122.9 890.5 123.5 889.8 124.0 889.2C124.6 888.5 125.1 887.9 125.7 887.2C126.3 886.6 126.8 886.0 127.4 885.4C128.0 884.8 128.6 884.2 129.2 883.6C129.8 883.0 130.4 882.4 131.1 881.9C131.7 881.3 132.4 880.7 133.0 880.2C133.7 879.7 134.3 879.1 135.0 878.6C135.7 878.1 136.4 877.6 137.1 877.1C137.8 876.6 138.5 876.1 139.2 875.7C139.9 875.2 140.6 874.7 141.3 874.3C142.0 873.9 142.7 873.4 143.5 873.0C144.2 872.6 144.9 872.1 145.7 871.7C146.4 871.3 147.2 870.9 147.9 870.6C148.7 870.2 149.4 869.8 150.2 869.4C150.9 869.0 151.7 868.7 152.5 868.3C153.2 868.0 154.0 867.6 154.7 867.3C155.5 866.9 156.3 866.6 157.1 866.3C157.8 865.9 158.6 865.6 159.4 865.3C160.2 865.0 160.9 864.7 161.7 864.4C162.5 864.1 163.3 863.8 164.1 863.5C164.9 863.2 165.7 862.9 166.5 862.6C167.3 862.3 168.1 862.0 168.9 861.8C169.7 861.5 170.5 861.2 171.3 861.0C172.1 860.7 172.9 860.4 173.7 860.2C174.5 859.9 175.3 859.7 176.1 859.4C176.9 859.2 177.7 858.9 178.5 858.7C179.4 858.5 180.2 858.2 181.0 858.0C181.8 857.8 182.6 857.5 183.4 857.3C184.2 857.1 185.1 856.9 185.9 856.7C186.7 856.5 187.5 856.2 188.3 856.0C189.1 855.8 189.9 855.6 190.8 855.4C191.6 855.2 192.4 855.0 193.2 854.8C194.0 854.6 194.8 854.5 195.6 854.3C196.5 854.1 197.3 853.9 198.1 853.7C198.9 853.5 199.8 853.4 200.6 853.2C201.4 853.0 202.3 852.8 203.1 852.6C203.9 852.5 204.8 852.3 205.6 852.1C206.4 852.0 207.2 851.8 208.1 851.6C208.9 851.5 209.7 851.3 210.6 851.2C211.4 851.0 212.2 850.9 213.1 850.7C213.9 850.6 214.7 850.4 215.6 850.3C216.4 850.1 217.2 850.0 218.1 849.8C218.9 849.7 219.7 849.6 220.6 849.4C221.4 849.3 222.2 849.1 223.1 849.0C223.9 848.9 224.7 848.7 225.6 848.6C226.4 848.5 227.2 848.4 228.1 848.2C228.9 848.1 229.7 848.0 230.6 847.9C231.4 847.7 232.2 847.6 233.1 847.5C233.9 847.4 234.7 847.3 235.6 847.2C236.4 847.0 237.2 846.9 238.1 846.8C238.9 846.7 239.7 846.6 240.6 846.5C241.4 846.4 242.2 846.3 243.1 846.2C243.9 846.1 245.1 845.9 245.5 845.9L245.50 845.87C245.6 846.3 245.8 847.6 246.0 848.5C246.2 849.3 246.4 850.1 246.6 851.0C246.8 851.9 247.0 852.8 247.3 853.6C247.5 854.5 247.8 855.2 248.0 856.0C248.3 856.8 248.6 857.6 248.9 858.4C249.2 859.2 249.6 860.0 249.9 860.8C250.3 861.6 250.7 862.4 251.1 863.1C251.5 863.9 251.9 864.7 252.3 865.4C252.8 866.2 253.2 866.9 253.7 867.6C254.1 868.3 254.6 869.0 255.1 869.7C255.5 870.4 256.0 871.1 256.5 871.8C257.0 872.5 257.5 873.2 258.0 873.9C258.5 874.5 259.1 875.2 259.6 875.8C260.2 876.5 260.7 877.2 261.3 877.8C261.8 878.4 262.4 879.1 263.0 879.7C263.5 880.3 264.1 881.0 264.7 881.6C265.3 882.2 265.9 882.8 266.5 883.4C267.1 883.9 267.7 884.5 268.3 885.1C269.0 885.7 269.6 886.2 270.2 886.8C270.9 887.3 271.6 887.9 272.2 888.4C272.9 889.0 273.5 889.5 274.2 890.0C274.8 890.5 275.5 891.0 276.2 891.5C276.9 892.0 277.6 892.5 278.3 893.0C279.0 893.5 279.7 893.9 280.4 894.4C281.1 894.9 281.8 895.3 282.5 895.8C283.2 896.2 283.9 896.6 284.7 897.1C285.4 897.5 286.2 897.9 286.9 898.3C287.6 898.8 288.4 899.1 289.1 899.5C289.9 899.9 290.6 900.3 291.4 900.7C292.1 901.1 292.9 901.5 293.7 901.9C294.4 902.2 295.2 902.6 295.9 902.9C296.7 903.3 297.5 903.6 298.3 904.0C299.1 904.3 299.8 904.7 300.6 905.0C301.4 905.3 302.2 905.6 303.0 906.0C303.7 906.3 304.5 906.6 305.3 906.9C306.1 907.2 306.9 907.5 307.7 907.8C308.4 908.1 309.3 908.4 310.1 908.6C310.9 908.9 311.7 909.2 312.5 909.5C313.3 909.8 314.1 910.0 314.9 910.3C315.7 910.6 316.5 910.8 317.3 911.1C318.1 911.4 318.9 911.6 319.7 911.9C320.5 912.1 321.3 912.4 322.1 912.6C322.9 912.9 323.7 913.1 324.5 913.3C325.3 913.6 326.1 913.8 326.9 914.0C327.7 914.3 328.5 914.5 329.4 914.7C330.2 915.0 331.0 915.2 331.8 915.4C332.7 915.6 333.5 915.8 334.3 916.1C335.1 916.3 335.9 916.5 336.8 916.7C337.6 916.9 338.4 917.1 339.2 917.3C340.1 917.5 340.9 917.7 341.7 917.9C342.5 918.1 343.3 918.3 344.2 918.5C345.0 918.7 345.8 918.9 346.6 919.1C347.5 919.3 348.3 919.5 349.1 919.7C349.9 919.8 350.8 920.0 351.6 920.2C352.4 920.4 353.2 920.6 354.0 920.7C354.9 920.9 355.7 921.1 356.5 921.3C357.3 921.4 358.2 921.6 359.0 921.8C359.8 922.0 360.6 922.1 361.4 922.3C362.3 922.5 363.1 922.6 363.9 922.8C364.7 922.9 365.6 923.1 366.4 923.3C367.2 923.4 368.0 923.6 368.9 923.7C369.7 923.9 370.5 924.1 371.3 924.2C372.1 924.4 373.0 924.5 373.8 924.7C374.6 924.8 375.4 925.0 376.3 925.1C377.1 925.3 377.9 925.4 378.7 925.6C379.5 925.7 380.4 925.8 381.2 926.0C382.0 926.1 382.8 926.3 383.7 926.4C384.5 926.5 385.3 926.7 386.1 926.8C387.0 927.0 387.8 927.1 388.6 927.2C389.4 927.4 390.2 927.5 391.1 927.6C391.9 927.8 392.8 927.9 393.6 928.0C394.4 928.2 395.3 928.3 396.1 928.4C397.0 928.6 397.8 928.7 398.7 928.8C399.5 928.9 400.4 929.1 401.2 929.2C402.0 929.3 402.9 929.4 403.7 929.6C404.6 929.7 405.4 929.8 406.3 929.9C407.1 930.1 407.9 930.2 408.8 930.3C409.6 930.4 410.5 930.5 411.3 930.7C412.2 930.8 413.0 930.9 413.9 931.0C414.7 931.1 415.5 931.2 416.4 931.3C417.2 931.5 418.1 931.6 418.9 931.7C419.8 931.8 420.6 931.9 421.4 932.0C422.3 932.1 423.1 932.2 424.0 932.3C424.8 932.5 425.7 932.6 426.5 932.7C427.4 932.8 428.2 932.9 429.0 933.0C429.9 933.1 430.7 933.2 431.6 933.3C432.4 933.4 433.3 933.5 434.1 933.6C435.0 933.7 435.8 933.8 436.6 933.9C437.5 934.0 438.3 934.1 439.2 934.2C440.0 934.3 440.9 934.4 441.7 934.5C442.5 934.6 443.4 934.7 444.2 934.8C445.1 934.9 445.9 935.0 446.8 935.1C447.6 935.1 448.5 935.2 449.3 935.3C450.1 935.4 451.0 935.5 451.8 935.6C452.7 935.7 453.5 935.8 454.4 935.9C455.2 936.0 456.0 936.0 456.9 936.1C457.7 936.2 458.6 936.3 459.4 936.4C460.3 936.5 461.1 936.6 462.0 936.7C462.8 936.7 463.6 936.8 464.5 936.9C465.3 937.0 466.2 937.1 467.0 937.1C467.9 937.2 468.7 937.3 469.5 937.4C470.4 937.5 471.2 937.6 472.1 937.6C472.9 937.7 473.8 937.8 474.6 937.9C475.5 937.9 476.3 938.0 477.1 938.1C478.0 938.2 478.8 938.3 479.7 938.3C480.5 938.4 481.4 938.5 482.2 938.6C483.1 938.6 483.9 938.7 484.7 938.8C485.6 938.8 486.4 938.9 487.3 939.0C488.1 939.1 489.0 939.1 489.8 939.2C490.6 939.3 491.5 939.3 492.3 939.4C493.2 939.5 494.0 939.6 494.9 939.6C495.7 939.7 496.8 939.8 497.4 939.8C498.0 939.9 498.4 939.9 498.6 939.9" class="cv"/>
<path d="M76.90 1100.30C77.1 1099.9 77.8 1098.9 78.2 1098.1C78.6 1097.4 79.1 1096.7 79.5 1096.0C80.0 1095.2 80.4 1094.5 80.8 1093.7C81.3 1093.0 81.7 1092.2 82.2 1091.5C82.6 1090.8 83.1 1090.0 83.5 1089.3C84.0 1088.5 84.4 1087.8 84.9 1087.1C85.3 1086.3 85.7 1085.6 86.2 1084.8C86.6 1084.1 87.1 1083.4 87.5 1082.6C88.0 1081.9 88.4 1081.1 88.9 1080.4C89.3 1079.7 89.8 1078.9 90.2 1078.2C90.6 1077.4 91.1 1076.7 91.5 1075.9C92.0 1075.2 92.4 1074.5 92.9 1073.7C93.3 1073.0 93.8 1072.2 94.2 1071.5C94.7 1070.7 95.1 1070.0 95.5 1069.2C96.0 1068.5 96.4 1067.7 96.9 1067.0C97.3 1066.3 97.7 1065.6 98.2 1064.8C98.6 1064.1 99.0 1063.4 99.4 1062.7C99.9 1062.0 100.3 1061.3 100.7 1060.5C101.2 1059.8 101.6 1059.1 102.0 1058.4C102.4 1057.7 102.9 1057.0 103.3 1056.2C103.7 1055.5 104.1 1054.8 104.6 1054.1C105.0 1053.4 105.4 1052.6 105.8 1051.9C106.3 1051.2 106.7 1050.5 107.1 1049.8C107.6 1049.1 108.0 1048.3 108.4 1047.6C108.8 1046.9 109.3 1046.2 109.7 1045.5C110.1 1044.7 110.6 1044.0 111.0 1043.2C111.5 1042.5 111.9 1041.7 112.4 1041.0C112.8 1040.3 113.3 1039.5 113.7 1038.8C114.1 1038.0 114.6 1037.3 115.0 1036.5C115.5 1035.8 115.9 1035.1 116.4 1034.3C116.8 1033.6 117.3 1032.8 117.7 1032.1C118.2 1031.4 118.6 1030.6 119.0 1029.9C119.5 1029.2 119.9 1028.4 120.4 1027.7C120.8 1027.0 121.3 1026.2 121.7 1025.5C122.2 1024.8 122.6 1024.1 123.1 1023.3C123.5 1022.6 123.9 1021.9 124.4 1021.2C124.8 1020.4 125.3 1019.7 125.7 1019.0C126.2 1018.3 126.6 1017.6 127.1 1016.9C127.5 1016.1 128.0 1015.4 128.4 1014.7C128.8 1014.0 129.3 1013.3 129.7 1012.6C130.2 1011.9 130.7 1011.2 131.1 1010.4C131.6 1009.7 132.1 1009.0 132.5 1008.3C133.0 1007.5 133.4 1006.8 133.9 1006.1C134.4 1005.4 134.8 1004.7 135.3 1004.0C135.8 1003.3 136.2 1002.6 136.7 1001.9C137.2 1001.2 137.6 1000.5 138.1 999.8C138.6 999.1 139.1 998.3 139.5 997.6C140.0 996.9 140.5 996.2 141.0 995.5C141.5 994.8 141.9 994.1 142.4 993.4C142.9 992.7 143.4 992.0 143.9 991.3C144.4 990.6 144.8 990.0 145.3 989.3C145.8 988.6 146.3 987.9 146.8 987.2C147.3 986.5 147.8 985.8 148.3 985.1C148.8 984.4 149.3 983.8 149.8 983.1C150.3 982.4 150.8 981.8 151.3 981.1C151.9 980.4 152.4 979.7 152.9 979.0C153.4 978.4 153.9 977.7 154.5 977.0C155.0 976.4 155.5 975.7 156.0 975.0C156.5 974.4 157.1 973.7 157.6 973.0C158.2 972.4 158.7 971.7 159.2 971.1C159.8 970.4 160.3 969.8 160.9 969.1C161.4 968.5 162.0 967.8 162.5 967.2C163.1 966.5 163.6 965.9 164.2 965.3C164.8 964.6 165.3 964.0 165.9 963.4C166.4 962.8 167.0 962.1 167.6 961.5C168.2 960.9 168.7 960.3 169.3 959.7C169.9 959.0 170.5 958.4 171.1 957.8C171.7 957.2 172.3 956.6 172.9 956.0C173.5 955.4 174.1 954.8 174.7 954.2C175.3 953.6 175.9 953.0 176.5 952.4C177.1 951.8 177.7 951.3 178.3 950.7C179.0 950.1 179.6 949.5 180.2 949.0C180.9 948.4 181.5 947.8 182.1 947.3C182.8 946.7 183.4 946.2 184.0 945.6C184.7 945.1 185.3 944.5 186.0 944.0C186.6 943.4 187.3 942.9 187.9 942.4C188.6 941.8 189.3 941.3 189.9 940.8C190.6 940.3 191.3 939.7 191.9 939.2C192.6 938.7 193.3 938.2 193.9 937.7C194.6 937.2 195.3 936.7 196.0 936.2C196.7 935.7 197.4 935.3 198.1 934.8C198.8 934.3 199.5 933.8 200.2 933.3C200.9 932.9 201.6 932.4 202.3 931.9C203.0 931.5 203.7 931.0 204.4 930.6C205.1 930.1 205.9 929.6 206.6 929.2C207.3 928.8 208.0 928.3 208.7 927.9C209.5 927.5 210.2 927.0 210.9 926.6C211.6 926.2 212.4 925.8 213.1 925.4C213.8 925.0 214.6 924.5 215.3 924.1C216.1 923.7 216.8 923.3 217.5 922.9C218.3 922.5 219.0 922.1 219.8 921.8C220.5 921.4 221.2 921.0 222.0 920.6C222.8 920.2 223.5 919.9 224.3 919.5C225.0 919.1 225.8 918.7 226.6 918.4C227.3 918.0 228.1 917.6 228.8 917.3C229.6 916.9 230.4 916.6 231.1 916.2C231.9 915.9 232.6 915.6 233.4 915.2C234.2 914.9 235.0 914.5 235.8 914.2C236.5 913.9 237.3 913.5 238.1 913.2C238.9 912.9 239.7 912.5 240.4 912.2C241.2 911.9 241.8 911.6 242.8 911.3C243.7 910.9 245.5 910.2 246.0 910.0L246.00 909.97C246.3 910.2 247.3 911.0 248.0 911.5C248.7 912.0 249.4 912.5 250.1 913.0C250.8 913.5 251.5 914.0 252.2 914.4C252.9 914.9 253.6 915.4 254.3 915.8C255.0 916.3 255.7 916.8 256.4 917.2C257.1 917.7 257.8 918.1 258.6 918.5C259.3 919.0 260.0 919.4 260.8 919.8C261.5 920.2 262.3 920.7 263.0 921.1C263.7 921.5 264.5 921.9 265.2 922.3C265.9 922.7 266.7 923.0 267.5 923.4C268.2 923.8 269.0 924.2 269.8 924.6C270.5 924.9 271.3 925.3 272.0 925.6C272.8 926.0 273.6 926.4 274.4 926.7C275.1 927.1 275.9 927.4 276.7 927.7C277.5 928.1 278.3 928.4 279.0 928.7C279.8 929.0 280.6 929.3 281.4 929.7C282.2 930.0 282.9 930.3 283.7 930.6C284.5 930.9 285.3 931.2 286.1 931.4C286.9 931.7 287.7 932.0 288.5 932.3C289.3 932.6 290.1 932.9 290.9 933.1C291.7 933.4 292.5 933.6 293.3 933.9C294.1 934.2 294.9 934.4 295.7 934.7C296.5 934.9 297.3 935.2 298.1 935.4C298.9 935.6 299.7 935.9 300.5 936.1C301.3 936.3 302.2 936.6 303.0 936.8C303.8 937.0 304.6 937.2 305.4 937.5C306.3 937.7 307.1 937.9 307.9 938.1C308.7 938.3 309.5 938.5 310.4 938.7C311.2 938.9 312.0 939.1 312.8 939.3C313.7 939.5 314.5 939.7 315.3 939.9C316.1 940.1 316.9 940.3 317.8 940.5C318.6 940.6 319.4 940.8 320.2 941.0C321.0 941.2 321.9 941.3 322.7 941.5C323.5 941.7 324.3 941.8 325.1 942.0C326.0 942.2 326.8 942.3 327.6 942.5C328.4 942.7 329.3 942.8 330.1 943.0C330.9 943.1 331.7 943.3 332.5 943.4C333.4 943.6 334.2 943.7 335.0 943.9C335.8 944.0 336.6 944.2 337.5 944.3C338.3 944.4 339.1 944.6 340.0 944.7C340.8 944.9 341.7 945.0 342.5 945.1C343.4 945.3 344.2 945.4 345.0 945.5C345.9 945.7 346.7 945.8 347.6 945.9C348.4 946.1 349.3 946.2 350.1 946.3C350.9 946.4 351.8 946.6 352.6 946.7C353.5 946.8 354.3 946.9 355.2 947.1C356.0 947.2 356.8 947.3 357.7 947.4C358.5 947.5 359.4 947.6 360.2 947.7C361.0 947.9 361.9 948.0 362.7 948.1C363.6 948.2 364.4 948.3 365.3 948.4C366.1 948.5 366.9 948.6 367.8 948.7C368.6 948.8 369.5 948.9 370.3 949.0C371.2 949.1 372.0 949.2 372.8 949.3C373.7 949.4 374.5 949.5 375.4 949.6C376.2 949.7 377.0 949.8 377.9 949.9C378.7 950.0 379.6 950.1 380.4 950.2C381.3 950.3 382.1 950.4 382.9 950.5C383.8 950.6 384.6 950.7 385.5 950.8C386.3 950.9 387.2 950.9 388.0 951.0C388.8 951.1 389.7 951.2 390.5 951.3C391.4 951.4 392.2 951.5 393.0 951.6C393.9 951.6 394.7 951.7 395.6 951.8C396.4 951.9 397.3 952.0 398.1 952.1C398.9 952.1 399.8 952.2 400.6 952.3C401.5 952.4 402.3 952.5 403.2 952.5C404.0 952.6 404.8 952.7 405.7 952.8C406.5 952.8 407.4 952.9 408.2 953.0C409.1 953.1 409.9 953.2 410.7 953.2C411.6 953.3 412.4 953.4 413.3 953.5C414.1 953.5 414.9 953.6 415.8 953.7C416.6 953.7 417.5 953.8 418.3 953.9C419.2 954.0 420.0 954.0 420.8 954.1C421.7 954.2 422.5 954.2 423.4 954.3C424.2 954.4 425.1 954.4 425.9 954.5C426.7 954.6 427.6 954.7 428.4 954.7C429.3 954.8 430.1 954.9 430.9 954.9C431.8 955.0 432.6 955.1 433.5 955.1C434.3 955.2 435.2 955.2 436.0 955.3C436.8 955.4 437.7 955.4 438.5 955.5C439.4 955.6 440.2 955.6 441.1 955.7C441.9 955.8 442.7 955.8 443.6 955.9C444.4 955.9 445.3 956.0 446.1 956.1C447.0 956.1 447.8 956.2 448.6 956.2C449.5 956.3 450.3 956.4 451.2 956.4C452.0 956.5 452.8 956.5 453.7 956.6C454.5 956.7 455.4 956.7 456.2 956.8C457.1 956.8 457.9 956.9 458.7 956.9C459.6 957.0 460.4 957.1 461.3 957.1C462.1 957.2 463.0 957.2 463.8 957.3C464.6 957.3 465.5 957.4 466.3 957.4C467.2 957.5 468.0 957.6 468.8 957.6C469.7 957.7 470.5 957.7 471.4 957.8C472.2 957.8 473.1 957.9 473.9 957.9C474.7 958.0 475.6 958.0 476.4 958.1C477.3 958.1 478.1 958.2 479.0 958.2C479.8 958.3 480.6 958.4 481.5 958.4C482.3 958.5 483.2 958.5 484.0 958.6C484.9 958.6 485.7 958.7 486.5 958.7C487.4 958.8 488.2 958.8 489.1 958.9C489.9 958.9 490.7 959.0 491.6 959.0C492.4 959.1 493.3 959.1 494.1 959.1C495.0 959.2 495.9 959.3 496.6 959.3C497.4 959.3 498.3 959.4 498.6 959.4" class="cv"/>
<path d="M76.90 1100.30L246.20 1038.90L498.60 1039.50" class="cv"/>
<path d="M76.90 1100.30L245.50 1088.00L498.60 1088.40" class="cv"/>
</svg>
</body></html>
